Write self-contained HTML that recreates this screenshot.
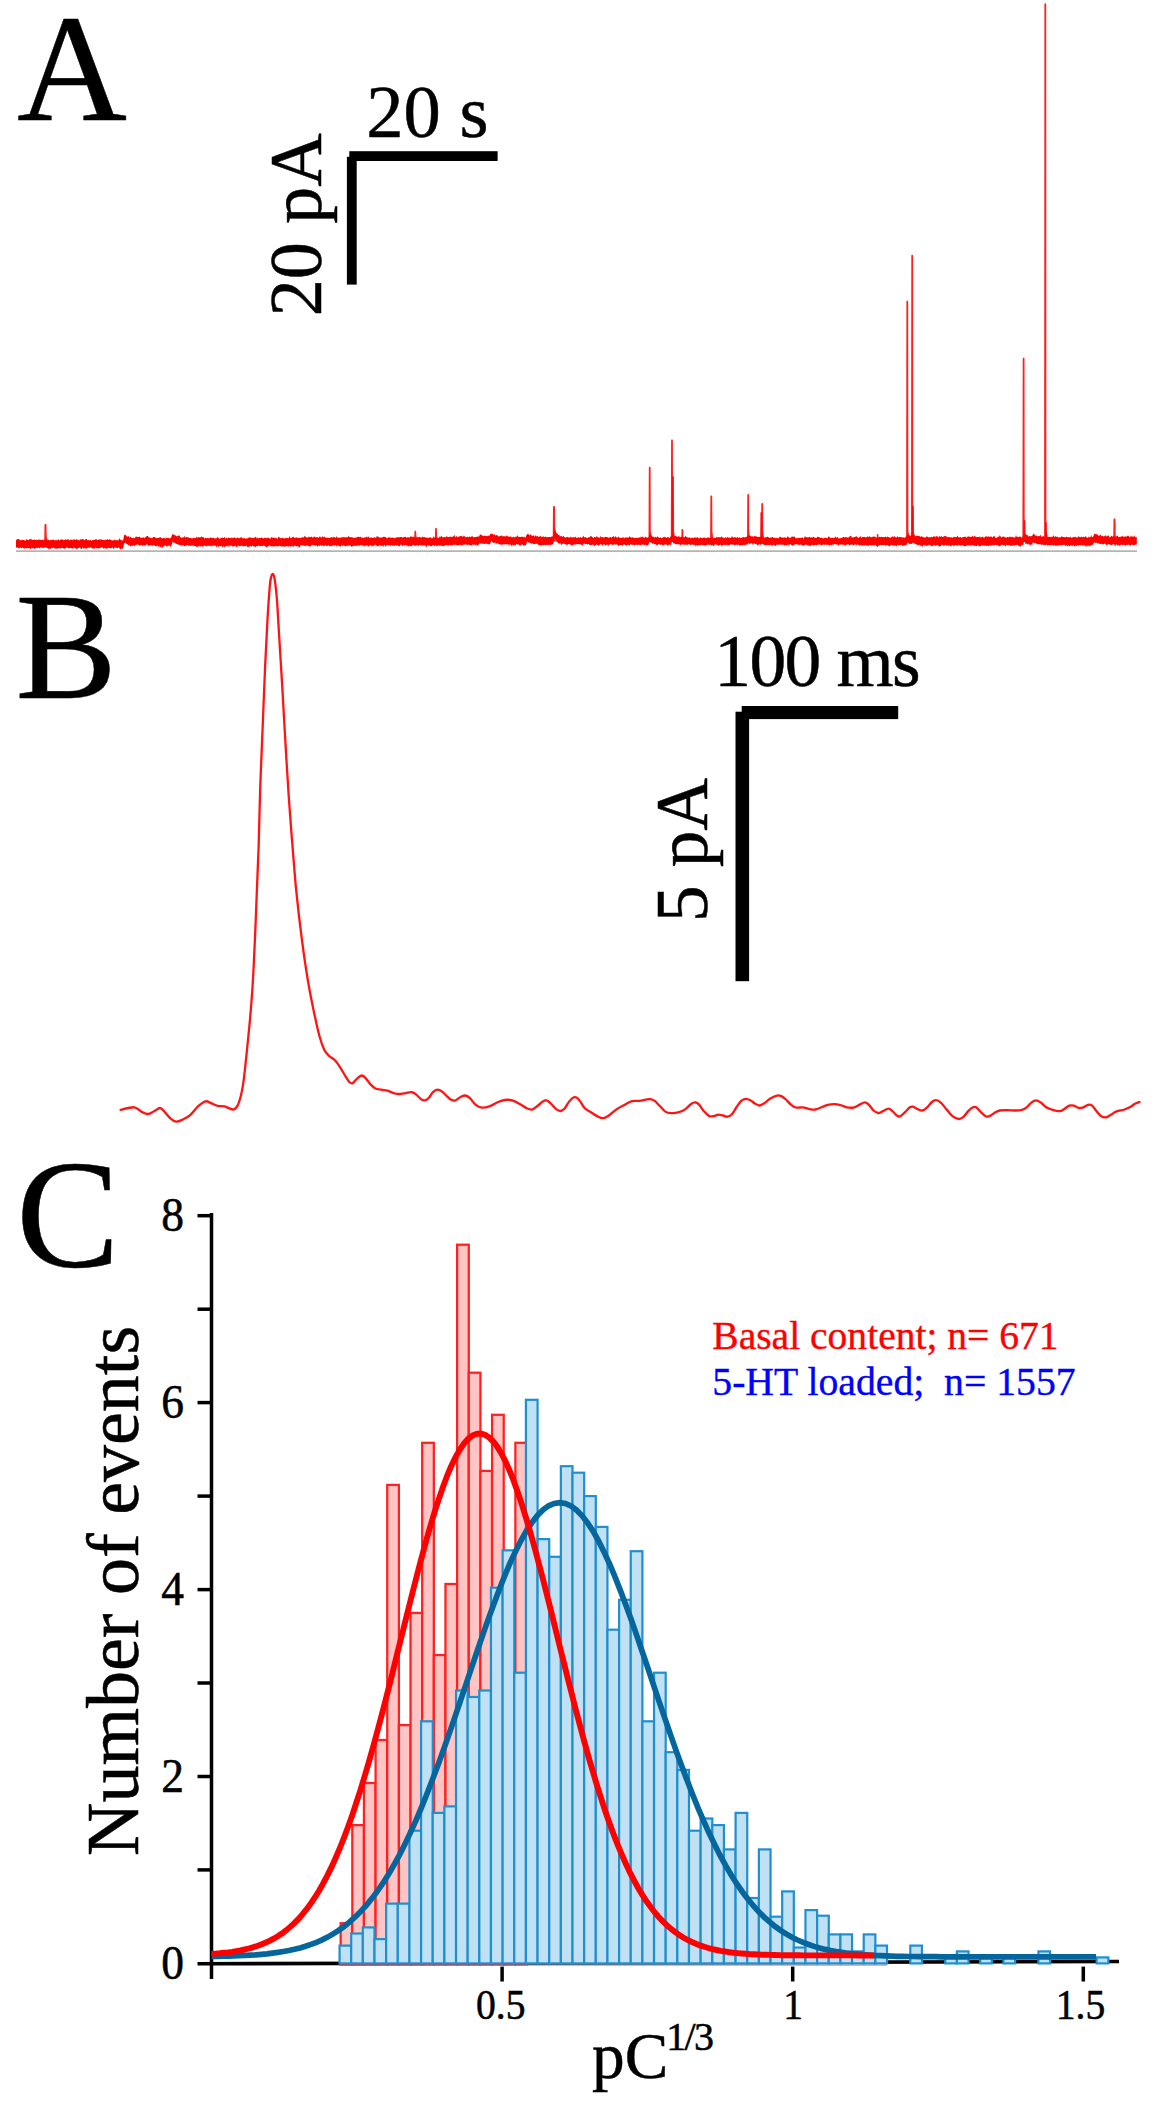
<!DOCTYPE html>
<html lang="en"><head><meta charset="utf-8"><title>Figure</title>
<style>
html,body{margin:0;padding:0;background:#fff;}
body{width:1154px;height:2108px;overflow:hidden;}
svg{display:block;}
</style></head><body>
<svg width="1154" height="2108" viewBox="0 0 1154 2108">
<rect width="1154" height="2108" fill="#fff"/>
<!-- Panel A: amperometric trace -->
<line x1="16" y1="551.1" x2="1137" y2="551.1" stroke="#b4b4b4" stroke-width="1.6"/>
<path d="M16.0 540.4 L16.8 539.3 L17.6 539.2 L18.4 538.8 L19.2 539.2 L20.0 540.6 L20.8 540.1 L21.6 540.2 L22.4 539.8 L23.2 540.0 L24.0 540.1 L24.8 540.5 L25.6 540.9 L26.4 539.0 L27.2 539.6 L28.0 540.2 L28.8 540.1 L29.6 538.9 L30.4 539.3 L31.2 539.1 L32.0 539.9 L32.8 540.0 L33.6 539.8 L34.4 539.6 L35.2 539.9 L36.0 540.0 L36.8 539.5 L37.6 540.2 L38.4 539.6 L39.2 539.7 L40.0 539.5 L40.8 539.9 L41.6 539.9 L42.4 539.4 L43.2 539.9 L44.0 540.6 L44.8 539.2 L45.6 540.5 L46.4 538.6 L47.2 540.3 L48.0 539.4 L48.8 539.8 L49.6 540.5 L50.4 539.9 L51.2 540.2 L52.0 539.6 L52.8 540.1 L53.6 539.5 L54.4 540.4 L55.2 540.2 L56.0 539.9 L56.8 540.2 L57.6 540.3 L58.4 539.1 L59.2 540.6 L60.0 540.1 L60.8 539.5 L61.6 539.4 L62.4 539.3 L63.2 540.2 L64.0 540.1 L64.8 540.0 L65.6 538.9 L66.4 540.3 L67.2 538.7 L68.0 540.2 L68.8 538.8 L69.6 540.8 L70.4 539.6 L71.2 539.8 L72.0 539.5 L72.8 540.4 L73.6 539.0 L74.4 539.4 L75.2 539.7 L76.0 539.9 L76.8 538.6 L77.6 540.2 L78.4 540.1 L79.2 540.5 L80.0 539.2 L80.8 539.4 L81.6 539.6 L82.4 538.9 L83.2 539.2 L84.0 539.5 L84.8 540.5 L85.6 538.9 L86.4 538.7 L87.2 539.8 L88.0 540.5 L88.8 539.7 L89.6 540.5 L90.4 539.8 L91.2 540.7 L92.0 540.6 L92.8 540.1 L93.6 539.9 L94.4 539.9 L95.2 539.4 L96.0 539.1 L96.8 539.5 L97.6 540.2 L98.4 539.8 L99.2 539.2 L100.0 539.7 L100.8 539.3 L101.6 539.5 L102.4 540.1 L103.2 539.9 L104.0 540.0 L104.8 540.3 L105.6 539.4 L106.4 540.0 L107.2 539.3 L108.0 539.2 L108.8 540.1 L109.6 539.3 L110.4 539.6 L111.2 540.1 L112.0 540.6 L112.8 540.2 L113.6 540.4 L114.4 539.5 L115.2 539.9 L116.0 540.5 L116.8 540.1 L117.6 540.2 L118.4 540.5 L119.2 538.1 L120.0 539.5 L120.8 539.7 L121.6 540.3 L122.4 540.5 L123.2 540.3 L124.0 535.4 L124.8 534.5 L125.6 534.9 L126.4 535.7 L127.2 536.8 L128.0 536.4 L128.8 536.0 L129.6 537.7 L130.4 536.8 L131.2 537.2 L132.0 538.3 L132.8 537.9 L133.6 537.8 L134.4 538.4 L135.2 537.5 L136.0 536.3 L136.8 537.1 L137.6 536.8 L138.4 537.3 L139.2 536.6 L140.0 537.1 L140.8 538.0 L141.6 537.5 L142.4 538.1 L143.2 537.2 L144.0 537.5 L144.8 538.3 L145.6 536.8 L146.4 536.4 L147.2 536.1 L148.0 536.0 L148.8 537.6 L149.6 537.6 L150.4 537.8 L151.2 537.8 L152.0 538.4 L152.8 537.3 L153.6 536.9 L154.4 537.1 L155.2 537.2 L156.0 538.2 L156.8 538.1 L157.6 538.1 L158.4 538.0 L159.2 537.7 L160.0 537.1 L160.8 537.6 L161.6 538.1 L162.4 538.6 L163.2 538.0 L164.0 538.0 L164.8 538.2 L165.6 538.6 L166.4 537.9 L167.2 537.5 L168.0 538.6 L168.8 537.5 L169.6 538.6 L170.4 538.3 L171.2 537.2 L172.0 535.1 L172.8 533.6 L173.6 535.1 L174.4 534.7 L175.2 535.5 L176.0 535.6 L176.8 536.4 L177.6 536.0 L178.4 535.7 L179.2 535.1 L180.0 536.8 L180.8 537.5 L181.6 537.8 L182.4 537.4 L183.2 537.5 L184.0 537.0 L184.8 536.0 L185.6 538.1 L186.4 537.0 L187.2 537.1 L188.0 537.6 L188.8 537.4 L189.6 538.0 L190.4 537.8 L191.2 538.5 L192.0 537.8 L192.8 538.5 L193.6 538.0 L194.4 537.9 L195.2 537.7 L196.0 537.9 L196.8 536.5 L197.6 537.9 L198.4 537.0 L199.2 537.5 L200.0 536.9 L200.8 537.5 L201.6 536.3 L202.4 537.5 L203.2 536.4 L204.0 538.2 L204.8 538.6 L205.6 537.5 L206.4 538.3 L207.2 538.3 L208.0 537.7 L208.8 538.4 L209.6 537.9 L210.4 537.4 L211.2 537.4 L212.0 538.3 L212.8 537.7 L213.6 537.8 L214.4 538.5 L215.2 538.2 L216.0 538.4 L216.8 538.0 L217.6 536.9 L218.4 537.6 L219.2 538.9 L220.0 538.3 L220.8 538.3 L221.6 537.7 L222.4 537.4 L223.2 537.9 L224.0 537.9 L224.8 536.6 L225.6 538.8 L226.4 537.6 L227.2 538.8 L228.0 537.1 L228.8 538.0 L229.6 537.9 L230.4 538.3 L231.2 537.3 L232.0 538.4 L232.8 537.5 L233.6 538.1 L234.4 537.4 L235.2 537.4 L236.0 538.4 L236.8 538.0 L237.6 537.6 L238.4 537.9 L239.2 538.2 L240.0 538.1 L240.8 537.2 L241.6 537.2 L242.4 538.2 L243.2 538.3 L244.0 538.2 L244.8 538.0 L245.6 538.9 L246.4 538.2 L247.2 538.7 L248.0 537.7 L248.8 537.8 L249.6 537.2 L250.4 537.4 L251.2 537.8 L252.0 538.0 L252.8 537.8 L253.6 538.3 L254.4 537.4 L255.2 537.3 L256.0 536.4 L256.8 538.7 L257.6 537.6 L258.4 538.5 L259.2 537.7 L260.0 538.1 L260.8 537.9 L261.6 537.6 L262.4 537.8 L263.2 538.6 L264.0 538.2 L264.8 537.6 L265.6 538.0 L266.4 538.2 L267.2 537.8 L268.0 537.5 L268.8 537.9 L269.6 538.6 L270.4 538.7 L271.2 537.0 L272.0 537.4 L272.8 537.7 L273.6 537.5 L274.4 538.0 L275.2 537.7 L276.0 537.7 L276.8 538.5 L277.6 538.7 L278.4 536.4 L279.2 537.3 L280.0 537.7 L280.8 538.2 L281.6 538.3 L282.4 537.7 L283.2 537.9 L284.0 538.2 L284.8 538.7 L285.6 537.8 L286.4 538.1 L287.2 538.0 L288.0 538.1 L288.8 538.3 L289.6 535.8 L290.4 538.2 L291.2 537.7 L292.0 537.7 L292.8 536.5 L293.6 537.1 L294.4 538.1 L295.2 537.6 L296.0 537.8 L296.8 537.3 L297.6 537.7 L298.4 538.0 L299.2 538.0 L300.0 537.8 L300.8 537.9 L301.6 537.5 L302.4 537.0 L303.2 537.7 L304.0 537.1 L304.8 536.1 L305.6 536.5 L306.4 537.4 L307.2 537.3 L308.0 537.7 L308.8 536.5 L309.6 537.1 L310.4 537.3 L311.2 536.6 L312.0 537.1 L312.8 537.7 L313.6 537.1 L314.4 536.4 L315.2 537.1 L316.0 537.8 L316.8 537.1 L317.6 536.9 L318.4 538.0 L319.2 537.0 L320.0 536.3 L320.8 537.4 L321.6 537.6 L322.4 536.0 L323.2 537.5 L324.0 536.6 L324.8 536.8 L325.6 537.9 L326.4 537.6 L327.2 537.4 L328.0 537.9 L328.8 537.7 L329.6 537.9 L330.4 537.4 L331.2 537.5 L332.0 536.4 L332.8 537.9 L333.6 536.7 L334.4 536.9 L335.2 537.8 L336.0 537.4 L336.8 536.1 L337.6 538.1 L338.4 537.5 L339.2 537.9 L340.0 537.1 L340.8 538.2 L341.6 537.1 L342.4 537.2 L343.2 537.6 L344.0 536.5 L344.8 537.4 L345.6 537.4 L346.4 536.9 L347.2 537.4 L348.0 536.6 L348.8 536.3 L349.6 536.9 L350.4 537.3 L351.2 536.9 L352.0 537.5 L352.8 537.3 L353.6 537.9 L354.4 538.0 L355.2 537.0 L356.0 538.3 L356.8 537.0 L357.6 536.9 L358.4 536.6 L359.2 537.3 L360.0 536.8 L360.8 536.8 L361.6 538.0 L362.4 537.4 L363.2 537.4 L364.0 538.3 L364.8 536.9 L365.6 537.4 L366.4 536.4 L367.2 537.8 L368.0 536.3 L368.8 536.9 L369.6 538.0 L370.4 537.7 L371.2 536.9 L372.0 537.9 L372.8 537.8 L373.6 537.8 L374.4 537.2 L375.2 537.2 L376.0 538.2 L376.8 535.9 L377.6 536.5 L378.4 536.8 L379.2 537.6 L380.0 537.4 L380.8 537.4 L381.6 537.6 L382.4 537.3 L383.2 536.9 L384.0 536.6 L384.8 537.1 L385.6 536.9 L386.4 537.8 L387.2 538.4 L388.0 537.4 L388.8 537.2 L389.6 537.6 L390.4 537.6 L391.2 537.8 L392.0 538.0 L392.8 537.3 L393.6 538.1 L394.4 538.1 L395.2 538.3 L396.0 537.2 L396.8 537.5 L397.6 537.0 L398.4 537.4 L399.2 537.3 L400.0 536.9 L400.8 537.0 L401.6 537.1 L402.4 537.5 L403.2 537.3 L404.0 537.3 L404.8 536.7 L405.6 536.8 L406.4 537.7 L407.2 537.6 L408.0 537.0 L408.8 537.4 L409.6 537.6 L410.4 536.2 L411.2 536.9 L412.0 535.9 L412.8 537.5 L413.6 536.6 L414.4 537.1 L415.2 537.8 L416.0 537.8 L416.8 536.3 L417.6 537.6 L418.4 537.2 L419.2 536.8 L420.0 537.2 L420.8 537.6 L421.6 537.5 L422.4 536.6 L423.2 537.1 L424.0 537.5 L424.8 536.7 L425.6 537.7 L426.4 537.3 L427.2 538.2 L428.0 537.2 L428.8 538.0 L429.6 537.4 L430.4 537.1 L431.2 538.2 L432.0 538.1 L432.8 538.2 L433.6 536.0 L434.4 537.8 L435.2 537.4 L436.0 537.1 L436.8 537.6 L437.6 537.4 L438.4 538.1 L439.2 537.6 L440.0 535.9 L440.8 537.5 L441.6 535.2 L442.4 537.5 L443.2 537.0 L444.0 537.3 L444.8 537.0 L445.6 537.4 L446.4 536.2 L447.2 536.5 L448.0 537.3 L448.8 537.0 L449.6 536.7 L450.4 536.5 L451.2 537.2 L452.0 536.5 L452.8 537.0 L453.6 536.1 L454.4 534.8 L455.2 537.3 L456.0 537.0 L456.8 535.8 L457.6 537.5 L458.4 536.7 L459.2 536.7 L460.0 535.9 L460.8 536.1 L461.6 535.8 L462.4 537.2 L463.2 535.2 L464.0 537.1 L464.8 535.7 L465.6 537.5 L466.4 537.1 L467.2 536.8 L468.0 536.7 L468.8 537.5 L469.6 536.3 L470.4 537.1 L471.2 537.1 L472.0 535.6 L472.8 536.8 L473.6 537.6 L474.4 537.1 L475.2 537.1 L476.0 537.1 L476.8 536.7 L477.6 536.5 L478.4 536.5 L479.2 536.5 L480.0 534.3 L480.8 534.8 L481.6 534.9 L482.4 535.4 L483.2 536.2 L484.0 535.4 L484.8 535.7 L485.6 535.9 L486.4 536.0 L487.2 536.2 L488.0 535.4 L488.8 535.8 L489.6 535.7 L490.4 533.7 L491.2 533.7 L492.0 533.8 L492.8 534.2 L493.6 535.0 L494.4 534.0 L495.2 535.5 L496.0 535.2 L496.8 535.0 L497.6 535.4 L498.4 536.4 L499.2 536.5 L500.0 535.8 L500.8 535.9 L501.6 535.2 L502.4 536.5 L503.2 536.3 L504.0 536.1 L504.8 536.5 L505.6 536.4 L506.4 535.4 L507.2 535.8 L508.0 536.8 L508.8 536.4 L509.6 536.7 L510.4 536.2 L511.2 537.2 L512.0 536.9 L512.8 537.4 L513.6 536.5 L514.4 537.4 L515.2 537.2 L516.0 536.1 L516.8 537.3 L517.6 534.9 L518.4 537.1 L519.2 536.8 L520.0 537.1 L520.8 537.1 L521.6 536.8 L522.4 536.4 L523.2 537.5 L524.0 536.4 L524.8 537.5 L525.6 537.5 L526.4 535.3 L527.2 534.2 L528.0 533.7 L528.8 534.4 L529.6 535.5 L530.4 534.2 L531.2 535.3 L532.0 535.6 L532.8 535.9 L533.6 534.9 L534.4 537.0 L535.2 535.3 L536.0 536.0 L536.8 536.5 L537.6 535.5 L538.4 537.1 L539.2 536.7 L540.0 536.2 L540.8 536.1 L541.6 537.2 L542.4 536.9 L543.2 536.0 L544.0 537.3 L544.8 536.7 L545.6 536.6 L546.4 537.3 L547.2 537.2 L548.0 537.1 L548.8 536.9 L549.6 537.0 L550.4 537.3 L551.2 536.4 L552.0 536.8 L552.8 536.2 L553.6 534.6 L554.4 527.1 L555.2 529.7 L556.0 532.1 L556.8 533.4 L557.6 533.7 L558.4 535.2 L559.2 534.5 L560.0 536.7 L560.8 535.7 L561.6 536.1 L562.4 537.2 L563.2 535.8 L564.0 536.6 L564.8 537.6 L565.6 537.4 L566.4 537.3 L567.2 536.8 L568.0 537.3 L568.8 537.4 L569.6 537.5 L570.4 536.6 L571.2 537.7 L572.0 537.0 L572.8 537.8 L573.6 537.1 L574.4 537.5 L575.2 536.6 L576.0 537.4 L576.8 538.1 L577.6 537.6 L578.4 537.3 L579.2 538.1 L580.0 536.8 L580.8 537.5 L581.6 537.7 L582.4 537.4 L583.2 535.5 L584.0 536.9 L584.8 537.5 L585.6 536.9 L586.4 537.8 L587.2 537.7 L588.0 538.0 L588.8 537.0 L589.6 537.3 L590.4 536.3 L591.2 536.0 L592.0 536.7 L592.8 537.5 L593.6 538.0 L594.4 536.7 L595.2 537.3 L596.0 537.6 L596.8 535.8 L597.6 537.2 L598.4 537.2 L599.2 537.8 L600.0 537.4 L600.8 535.7 L601.6 537.6 L602.4 537.0 L603.2 537.3 L604.0 537.7 L604.8 537.0 L605.6 536.7 L606.4 536.9 L607.2 537.0 L608.0 537.6 L608.8 537.7 L609.6 537.5 L610.4 536.8 L611.2 537.9 L612.0 537.0 L612.8 536.8 L613.6 535.8 L614.4 537.9 L615.2 536.1 L616.0 537.1 L616.8 537.4 L617.6 537.7 L618.4 536.4 L619.2 537.3 L620.0 537.9 L620.8 537.9 L621.6 537.9 L622.4 537.7 L623.2 536.8 L624.0 538.4 L624.8 537.4 L625.6 537.4 L626.4 537.7 L627.2 537.3 L628.0 537.4 L628.8 537.7 L629.6 536.1 L630.4 536.9 L631.2 537.8 L632.0 537.5 L632.8 537.3 L633.6 537.8 L634.4 538.1 L635.2 538.1 L636.0 537.9 L636.8 537.8 L637.6 537.7 L638.4 538.1 L639.2 537.1 L640.0 538.1 L640.8 536.5 L641.6 537.6 L642.4 536.4 L643.2 536.8 L644.0 538.1 L644.8 537.6 L645.6 536.4 L646.4 537.6 L647.2 537.4 L648.0 537.7 L648.8 536.9 L649.6 532.7 L650.4 535.8 L651.2 535.0 L652.0 536.1 L652.8 537.0 L653.6 536.5 L654.4 537.7 L655.2 537.0 L656.0 536.8 L656.8 537.8 L657.6 536.0 L658.4 537.3 L659.2 537.9 L660.0 537.4 L660.8 537.3 L661.6 538.2 L662.4 538.0 L663.2 536.8 L664.0 537.4 L664.8 536.4 L665.6 537.5 L666.4 537.8 L667.2 537.3 L668.0 537.0 L668.8 537.6 L669.6 538.3 L670.4 536.1 L671.2 537.2 L672.0 534.8 L672.8 534.4 L673.6 536.2 L674.4 536.4 L675.2 535.8 L676.0 536.3 L676.8 536.4 L677.6 537.1 L678.4 536.3 L679.2 536.3 L680.0 537.4 L680.8 536.7 L681.6 536.8 L682.4 537.6 L683.2 536.9 L684.0 536.9 L684.8 537.6 L685.6 535.8 L686.4 536.7 L687.2 537.5 L688.0 537.3 L688.8 537.9 L689.6 537.1 L690.4 538.5 L691.2 537.5 L692.0 538.2 L692.8 537.2 L693.6 538.2 L694.4 537.5 L695.2 537.5 L696.0 537.4 L696.8 537.8 L697.6 536.9 L698.4 538.3 L699.2 538.4 L700.0 537.3 L700.8 537.7 L701.6 538.1 L702.4 538.2 L703.2 537.8 L704.0 537.5 L704.8 537.5 L705.6 538.2 L706.4 538.0 L707.2 537.9 L708.0 536.7 L708.8 537.9 L709.6 537.7 L710.4 537.2 L711.2 538.0 L712.0 536.8 L712.8 538.3 L713.6 537.9 L714.4 537.8 L715.2 537.9 L716.0 537.8 L716.8 536.4 L717.6 537.6 L718.4 537.2 L719.2 537.0 L720.0 537.5 L720.8 537.3 L721.6 536.2 L722.4 537.6 L723.2 537.3 L724.0 538.4 L724.8 537.5 L725.6 537.2 L726.4 538.1 L727.2 537.2 L728.0 536.8 L728.8 538.1 L729.6 537.5 L730.4 538.0 L731.2 537.8 L732.0 535.8 L732.8 537.4 L733.6 537.5 L734.4 537.2 L735.2 536.8 L736.0 538.2 L736.8 537.2 L737.6 537.0 L738.4 537.9 L739.2 537.5 L740.0 537.6 L740.8 538.0 L741.6 537.7 L742.4 537.5 L743.2 536.7 L744.0 537.5 L744.8 537.3 L745.6 537.2 L746.4 536.7 L747.2 536.5 L748.0 534.9 L748.8 535.8 L749.6 535.9 L750.4 535.5 L751.2 536.5 L752.0 536.3 L752.8 536.2 L753.6 537.3 L754.4 535.7 L755.2 536.6 L756.0 535.6 L756.8 536.9 L757.6 537.1 L758.4 536.9 L759.2 536.7 L760.0 537.0 L760.8 536.5 L761.6 536.9 L762.4 537.6 L763.2 537.0 L764.0 537.6 L764.8 537.6 L765.6 537.3 L766.4 537.3 L767.2 536.5 L768.0 537.0 L768.8 537.6 L769.6 538.0 L770.4 537.4 L771.2 537.4 L772.0 537.2 L772.8 536.8 L773.6 537.9 L774.4 537.4 L775.2 538.1 L776.0 538.3 L776.8 537.7 L777.6 538.3 L778.4 538.2 L779.2 537.6 L780.0 536.6 L780.8 537.0 L781.6 537.7 L782.4 537.2 L783.2 538.0 L784.0 537.2 L784.8 537.4 L785.6 537.6 L786.4 538.3 L787.2 536.7 L788.0 536.2 L788.8 537.7 L789.6 537.5 L790.4 538.3 L791.2 536.5 L792.0 537.2 L792.8 536.2 L793.6 536.7 L794.4 536.5 L795.2 537.4 L796.0 538.4 L796.8 537.9 L797.6 538.2 L798.4 538.1 L799.2 537.8 L800.0 538.2 L800.8 537.7 L801.6 537.7 L802.4 537.3 L803.2 538.4 L804.0 538.2 L804.8 536.3 L805.6 536.7 L806.4 537.3 L807.2 537.4 L808.0 537.0 L808.8 537.6 L809.6 536.6 L810.4 538.1 L811.2 536.7 L812.0 537.9 L812.8 537.0 L813.6 536.8 L814.4 537.4 L815.2 537.7 L816.0 537.9 L816.8 537.8 L817.6 536.6 L818.4 537.1 L819.2 536.9 L820.0 537.8 L820.8 537.9 L821.6 537.6 L822.4 538.0 L823.2 538.5 L824.0 538.3 L824.8 537.4 L825.6 538.0 L826.4 537.7 L827.2 538.4 L828.0 537.2 L828.8 536.2 L829.6 536.9 L830.4 538.1 L831.2 537.9 L832.0 537.7 L832.8 537.7 L833.6 538.1 L834.4 538.0 L835.2 536.5 L836.0 537.3 L836.8 537.7 L837.6 536.7 L838.4 538.4 L839.2 538.3 L840.0 538.4 L840.8 538.0 L841.6 538.0 L842.4 537.6 L843.2 536.9 L844.0 537.1 L844.8 537.8 L845.6 536.8 L846.4 537.2 L847.2 537.4 L848.0 537.5 L848.8 537.4 L849.6 536.3 L850.4 535.9 L851.2 536.1 L852.0 538.0 L852.8 536.9 L853.6 537.6 L854.4 537.0 L855.2 536.8 L856.0 536.6 L856.8 536.3 L857.6 537.4 L858.4 538.1 L859.2 536.8 L860.0 537.4 L860.8 535.5 L861.6 537.9 L862.4 537.1 L863.2 536.7 L864.0 537.3 L864.8 536.7 L865.6 537.3 L866.4 537.6 L867.2 536.5 L868.0 536.4 L868.8 537.2 L869.6 536.0 L870.4 537.0 L871.2 537.4 L872.0 536.5 L872.8 537.0 L873.6 536.5 L874.4 536.5 L875.2 537.1 L876.0 537.3 L876.8 537.6 L877.6 536.7 L878.4 537.7 L879.2 536.7 L880.0 536.8 L880.8 537.2 L881.6 536.8 L882.4 537.1 L883.2 537.0 L884.0 537.2 L884.8 536.9 L885.6 536.5 L886.4 537.5 L887.2 536.2 L888.0 537.5 L888.8 536.8 L889.6 537.4 L890.4 537.7 L891.2 537.3 L892.0 537.0 L892.8 535.9 L893.6 537.6 L894.4 536.0 L895.2 536.9 L896.0 537.6 L896.8 537.2 L897.6 536.1 L898.4 537.6 L899.2 536.7 L900.0 537.1 L900.8 537.1 L901.6 537.2 L902.4 537.4 L903.2 537.4 L904.0 537.3 L904.8 538.0 L905.6 537.1 L906.4 536.4 L907.2 534.6 L908.0 535.0 L908.8 535.2 L909.6 535.5 L910.4 535.4 L911.2 535.8 L912.0 533.5 L912.8 534.2 L913.6 534.9 L914.4 534.4 L915.2 536.5 L916.0 535.5 L916.8 536.2 L917.6 535.6 L918.4 536.0 L919.2 535.9 L920.0 536.5 L920.8 536.9 L921.6 536.0 L922.4 536.7 L923.2 537.3 L924.0 537.2 L924.8 537.5 L925.6 537.6 L926.4 536.5 L927.2 536.5 L928.0 536.9 L928.8 537.4 L929.6 537.0 L930.4 537.5 L931.2 536.7 L932.0 537.3 L932.8 537.0 L933.6 536.3 L934.4 536.3 L935.2 537.5 L936.0 535.9 L936.8 536.3 L937.6 536.4 L938.4 537.7 L939.2 535.7 L940.0 536.8 L940.8 536.7 L941.6 536.0 L942.4 536.9 L943.2 537.0 L944.0 536.1 L944.8 536.3 L945.6 535.8 L946.4 536.5 L947.2 537.5 L948.0 536.8 L948.8 537.1 L949.6 537.2 L950.4 537.5 L951.2 537.1 L952.0 537.8 L952.8 537.6 L953.6 537.2 L954.4 536.6 L955.2 537.3 L956.0 536.9 L956.8 536.9 L957.6 535.6 L958.4 537.2 L959.2 537.6 L960.0 536.9 L960.8 537.0 L961.6 537.9 L962.4 537.3 L963.2 537.0 L964.0 537.1 L964.8 536.8 L965.6 536.6 L966.4 537.8 L967.2 536.9 L968.0 536.3 L968.8 536.5 L969.6 537.0 L970.4 536.9 L971.2 536.8 L972.0 536.5 L972.8 535.9 L973.6 537.2 L974.4 536.0 L975.2 536.0 L976.0 537.5 L976.8 536.8 L977.6 537.0 L978.4 536.9 L979.2 537.3 L980.0 536.1 L980.8 538.1 L981.6 537.1 L982.4 536.4 L983.2 537.5 L984.0 537.2 L984.8 537.6 L985.6 536.3 L986.4 536.2 L987.2 536.9 L988.0 536.6 L988.8 536.3 L989.6 536.9 L990.4 536.7 L991.2 536.2 L992.0 537.2 L992.8 537.4 L993.6 536.0 L994.4 536.1 L995.2 537.6 L996.0 537.9 L996.8 537.7 L997.6 537.0 L998.4 537.1 L999.2 534.9 L1000.0 537.1 L1000.8 536.0 L1001.6 537.8 L1002.4 536.8 L1003.2 536.8 L1004.0 536.3 L1004.8 537.4 L1005.6 537.2 L1006.4 537.7 L1007.2 537.1 L1008.0 537.1 L1008.8 537.5 L1009.6 536.4 L1010.4 536.7 L1011.2 537.4 L1012.0 536.6 L1012.8 537.0 L1013.6 537.4 L1014.4 537.6 L1015.2 537.6 L1016.0 535.0 L1016.8 536.9 L1017.6 536.7 L1018.4 537.3 L1019.2 536.5 L1020.0 536.7 L1020.8 536.7 L1021.6 537.5 L1022.4 537.5 L1023.2 535.3 L1024.0 534.4 L1024.8 534.6 L1025.6 534.2 L1026.4 535.0 L1027.2 534.4 L1028.0 536.1 L1028.8 536.8 L1029.6 535.4 L1030.4 536.5 L1031.2 536.0 L1032.0 536.3 L1032.8 534.7 L1033.6 533.4 L1034.4 534.4 L1035.2 535.3 L1036.0 536.3 L1036.8 535.3 L1037.6 536.5 L1038.4 536.1 L1039.2 536.2 L1040.0 535.8 L1040.8 534.8 L1041.6 537.2 L1042.4 536.3 L1043.2 536.2 L1044.0 536.2 L1044.8 537.3 L1045.6 537.1 L1046.4 537.1 L1047.2 537.5 L1048.0 537.3 L1048.8 536.4 L1049.6 537.1 L1050.4 536.7 L1051.2 537.4 L1052.0 536.1 L1052.8 537.3 L1053.6 535.1 L1054.4 537.3 L1055.2 536.3 L1056.0 536.5 L1056.8 537.1 L1057.6 536.5 L1058.4 537.4 L1059.2 537.2 L1060.0 537.3 L1060.8 537.3 L1061.6 536.3 L1062.4 536.7 L1063.2 536.9 L1064.0 536.9 L1064.8 537.2 L1065.6 537.2 L1066.4 536.6 L1067.2 537.2 L1068.0 537.3 L1068.8 537.0 L1069.6 537.6 L1070.4 536.5 L1071.2 537.9 L1072.0 536.9 L1072.8 537.7 L1073.6 536.6 L1074.4 537.5 L1075.2 536.6 L1076.0 537.2 L1076.8 537.5 L1077.6 537.4 L1078.4 536.3 L1079.2 536.6 L1080.0 537.4 L1080.8 537.1 L1081.6 536.5 L1082.4 537.5 L1083.2 536.5 L1084.0 537.2 L1084.8 537.0 L1085.6 536.1 L1086.4 537.2 L1087.2 537.7 L1088.0 537.4 L1088.8 536.6 L1089.6 537.4 L1090.4 537.2 L1091.2 534.8 L1092.0 537.2 L1092.8 537.0 L1093.6 535.8 L1094.4 533.3 L1095.2 534.2 L1096.0 534.1 L1096.8 534.2 L1097.6 534.7 L1098.4 535.8 L1099.2 535.7 L1100.0 535.0 L1100.8 534.6 L1101.6 536.3 L1102.4 536.0 L1103.2 536.2 L1104.0 536.5 L1104.8 536.1 L1105.6 535.3 L1106.4 536.5 L1107.2 536.3 L1108.0 535.5 L1108.8 535.6 L1109.6 537.3 L1110.4 537.3 L1111.2 536.1 L1112.0 535.8 L1112.8 537.1 L1113.6 535.9 L1114.4 536.5 L1115.2 537.2 L1116.0 536.5 L1116.8 536.0 L1117.6 535.6 L1118.4 537.1 L1119.2 536.7 L1120.0 537.2 L1120.8 536.6 L1121.6 536.4 L1122.4 536.1 L1123.2 536.7 L1124.0 536.8 L1124.8 536.4 L1125.6 536.6 L1126.4 536.8 L1127.2 536.1 L1128.0 535.5 L1128.8 536.3 L1129.6 537.4 L1130.4 536.5 L1131.2 536.3 L1132.0 536.5 L1132.8 536.5 L1133.6 536.9 L1134.4 535.2 L1135.2 537.4 L1136.0 536.9 L1136.8 537.2 L1136.8 545.1 L1136.0 544.3 L1135.2 544.7 L1134.4 544.9 L1133.6 545.2 L1132.8 544.8 L1132.0 544.8 L1131.2 544.5 L1130.4 545.9 L1129.6 545.3 L1128.8 544.4 L1128.0 544.7 L1127.2 545.1 L1126.4 544.7 L1125.6 545.9 L1124.8 545.1 L1124.0 544.7 L1123.2 545.0 L1122.4 545.0 L1121.6 544.6 L1120.8 544.8 L1120.0 545.4 L1119.2 545.7 L1118.4 544.7 L1117.6 545.5 L1116.8 544.7 L1116.0 544.2 L1115.2 546.5 L1114.4 544.4 L1113.6 544.0 L1112.8 544.5 L1112.0 544.8 L1111.2 545.5 L1110.4 544.5 L1109.6 544.8 L1108.8 544.0 L1108.0 544.6 L1107.2 544.6 L1106.4 545.2 L1105.6 543.9 L1104.8 543.6 L1104.0 543.9 L1103.2 544.5 L1102.4 544.2 L1101.6 543.8 L1100.8 544.1 L1100.0 543.9 L1099.2 543.6 L1098.4 543.5 L1097.6 543.2 L1096.8 542.9 L1096.0 542.5 L1095.2 543.4 L1094.4 542.0 L1093.6 543.4 L1092.8 545.2 L1092.0 544.4 L1091.2 545.7 L1090.4 545.4 L1089.6 546.2 L1088.8 545.2 L1088.0 546.7 L1087.2 545.3 L1086.4 546.5 L1085.6 546.6 L1084.8 545.1 L1084.0 545.8 L1083.2 544.9 L1082.4 546.0 L1081.6 544.7 L1080.8 545.5 L1080.0 545.1 L1079.2 545.0 L1078.4 545.9 L1077.6 544.9 L1076.8 545.8 L1076.0 545.7 L1075.2 545.6 L1074.4 546.8 L1073.6 544.8 L1072.8 545.4 L1072.0 546.4 L1071.2 545.0 L1070.4 545.3 L1069.6 546.4 L1068.8 545.6 L1068.0 545.5 L1067.2 546.5 L1066.4 544.8 L1065.6 546.2 L1064.8 545.1 L1064.0 544.5 L1063.2 545.1 L1062.4 544.9 L1061.6 545.1 L1060.8 545.7 L1060.0 545.1 L1059.2 545.2 L1058.4 545.3 L1057.6 546.0 L1056.8 545.0 L1056.0 546.2 L1055.2 545.6 L1054.4 544.7 L1053.6 546.0 L1052.8 545.0 L1052.0 545.0 L1051.2 545.3 L1050.4 545.0 L1049.6 545.5 L1048.8 545.1 L1048.0 544.9 L1047.2 545.5 L1046.4 544.5 L1045.6 544.9 L1044.8 545.5 L1044.0 544.4 L1043.2 545.5 L1042.4 544.2 L1041.6 545.2 L1040.8 544.0 L1040.0 544.5 L1039.2 544.1 L1038.4 544.2 L1037.6 544.5 L1036.8 543.8 L1036.0 543.5 L1035.2 542.7 L1034.4 543.1 L1033.6 542.9 L1032.8 542.3 L1032.0 545.2 L1031.2 543.9 L1030.4 545.4 L1029.6 544.4 L1028.8 544.5 L1028.0 543.5 L1027.2 544.8 L1026.4 543.5 L1025.6 544.0 L1024.8 542.1 L1024.0 542.0 L1023.2 544.7 L1022.4 545.0 L1021.6 544.6 L1020.8 547.3 L1020.0 545.8 L1019.2 546.3 L1018.4 545.7 L1017.6 544.7 L1016.8 544.8 L1016.0 545.5 L1015.2 544.9 L1014.4 545.8 L1013.6 545.2 L1012.8 545.7 L1012.0 545.6 L1011.2 545.7 L1010.4 545.9 L1009.6 545.1 L1008.8 545.2 L1008.0 544.9 L1007.2 545.3 L1006.4 544.8 L1005.6 546.5 L1004.8 544.9 L1004.0 545.3 L1003.2 545.7 L1002.4 544.5 L1001.6 544.8 L1000.8 545.6 L1000.0 546.4 L999.2 545.9 L998.4 545.8 L997.6 545.1 L996.8 545.6 L996.0 545.1 L995.2 544.5 L994.4 545.5 L993.6 545.6 L992.8 544.4 L992.0 546.3 L991.2 545.1 L990.4 545.9 L989.6 545.0 L988.8 546.3 L988.0 545.6 L987.2 546.0 L986.4 545.9 L985.6 545.0 L984.8 545.9 L984.0 545.3 L983.2 545.3 L982.4 545.9 L981.6 544.9 L980.8 545.9 L980.0 546.4 L979.2 546.3 L978.4 545.6 L977.6 544.4 L976.8 546.2 L976.0 546.0 L975.2 545.5 L974.4 546.3 L973.6 545.2 L972.8 545.1 L972.0 545.5 L971.2 545.3 L970.4 545.8 L969.6 545.3 L968.8 545.1 L968.0 546.1 L967.2 544.9 L966.4 545.5 L965.6 546.3 L964.8 546.1 L964.0 546.6 L963.2 545.2 L962.4 545.6 L961.6 545.1 L960.8 545.9 L960.0 545.1 L959.2 545.5 L958.4 544.5 L957.6 546.0 L956.8 545.7 L956.0 545.0 L955.2 545.3 L954.4 545.7 L953.6 546.0 L952.8 545.1 L952.0 544.9 L951.2 546.4 L950.4 546.1 L949.6 545.3 L948.8 545.9 L948.0 544.7 L947.2 545.5 L946.4 546.0 L945.6 544.6 L944.8 545.3 L944.0 545.7 L943.2 545.7 L942.4 544.5 L941.6 545.3 L940.8 546.0 L940.0 546.4 L939.2 546.4 L938.4 545.8 L937.6 544.9 L936.8 544.9 L936.0 546.2 L935.2 545.6 L934.4 545.3 L933.6 545.6 L932.8 545.9 L932.0 545.6 L931.2 546.8 L930.4 545.2 L929.6 544.9 L928.8 544.6 L928.0 546.2 L927.2 545.3 L926.4 546.1 L925.6 545.2 L924.8 545.7 L924.0 544.8 L923.2 545.0 L922.4 547.1 L921.6 545.8 L920.8 546.3 L920.0 544.5 L919.2 545.3 L918.4 545.0 L917.6 545.0 L916.8 544.5 L916.0 544.3 L915.2 543.8 L914.4 543.5 L913.6 543.3 L912.8 542.6 L912.0 543.7 L911.2 543.9 L910.4 543.7 L909.6 544.0 L908.8 543.2 L908.0 542.4 L907.2 543.8 L906.4 545.1 L905.6 545.3 L904.8 545.4 L904.0 545.2 L903.2 545.9 L902.4 545.9 L901.6 544.6 L900.8 545.1 L900.0 544.9 L899.2 544.9 L898.4 545.2 L897.6 544.7 L896.8 545.7 L896.0 546.8 L895.2 545.1 L894.4 545.8 L893.6 545.7 L892.8 545.3 L892.0 545.2 L891.2 544.8 L890.4 545.2 L889.6 546.3 L888.8 546.3 L888.0 545.3 L887.2 544.9 L886.4 545.2 L885.6 546.0 L884.8 544.5 L884.0 545.3 L883.2 544.9 L882.4 545.2 L881.6 545.0 L880.8 545.0 L880.0 544.7 L879.2 545.8 L878.4 545.5 L877.6 547.1 L876.8 546.5 L876.0 545.7 L875.2 544.5 L874.4 545.4 L873.6 545.4 L872.8 545.1 L872.0 545.7 L871.2 545.0 L870.4 545.4 L869.6 545.1 L868.8 545.6 L868.0 546.1 L867.2 545.4 L866.4 545.7 L865.6 544.8 L864.8 545.3 L864.0 546.1 L863.2 545.3 L862.4 545.6 L861.6 545.8 L860.8 544.9 L860.0 544.9 L859.2 545.6 L858.4 544.7 L857.6 544.0 L856.8 545.4 L856.0 544.5 L855.2 544.3 L854.4 544.7 L853.6 545.2 L852.8 544.8 L852.0 544.4 L851.2 544.9 L850.4 544.4 L849.6 545.4 L848.8 544.7 L848.0 544.0 L847.2 544.7 L846.4 544.6 L845.6 545.3 L844.8 545.3 L844.0 545.1 L843.2 543.9 L842.4 545.1 L841.6 544.4 L840.8 544.6 L840.0 544.5 L839.2 544.6 L838.4 545.8 L837.6 544.4 L836.8 544.5 L836.0 544.3 L835.2 544.2 L834.4 544.1 L833.6 544.8 L832.8 544.8 L832.0 544.6 L831.2 545.6 L830.4 544.7 L829.6 545.6 L828.8 544.9 L828.0 544.7 L827.2 544.5 L826.4 544.9 L825.6 544.0 L824.8 545.2 L824.0 544.2 L823.2 544.5 L822.4 545.0 L821.6 545.3 L820.8 545.1 L820.0 544.0 L819.2 544.6 L818.4 544.7 L817.6 544.3 L816.8 545.4 L816.0 545.3 L815.2 544.8 L814.4 545.0 L813.6 545.8 L812.8 545.0 L812.0 544.7 L811.2 545.4 L810.4 546.0 L809.6 545.8 L808.8 544.9 L808.0 546.3 L807.2 544.7 L806.4 544.8 L805.6 544.6 L804.8 545.4 L804.0 544.8 L803.2 546.1 L802.4 545.3 L801.6 545.3 L800.8 544.0 L800.0 545.2 L799.2 544.4 L798.4 544.9 L797.6 544.5 L796.8 544.1 L796.0 544.8 L795.2 544.0 L794.4 544.7 L793.6 544.9 L792.8 545.8 L792.0 545.4 L791.2 544.8 L790.4 544.0 L789.6 544.6 L788.8 546.3 L788.0 544.1 L787.2 544.9 L786.4 545.4 L785.6 545.0 L784.8 545.6 L784.0 545.6 L783.2 544.5 L782.4 544.8 L781.6 544.8 L780.8 544.8 L780.0 544.2 L779.2 545.0 L778.4 544.4 L777.6 544.7 L776.8 544.5 L776.0 545.4 L775.2 546.1 L774.4 545.3 L773.6 544.6 L772.8 545.4 L772.0 545.9 L771.2 544.7 L770.4 544.8 L769.6 545.0 L768.8 545.2 L768.0 544.8 L767.2 545.0 L766.4 544.9 L765.6 545.2 L764.8 545.4 L764.0 544.4 L763.2 544.5 L762.4 543.8 L761.6 544.0 L760.8 544.5 L760.0 544.9 L759.2 543.7 L758.4 545.1 L757.6 545.6 L756.8 544.4 L756.0 543.8 L755.2 544.2 L754.4 543.2 L753.6 543.4 L752.8 544.9 L752.0 543.0 L751.2 543.3 L750.4 543.4 L749.6 543.9 L748.8 543.0 L748.0 543.5 L747.2 544.7 L746.4 544.4 L745.6 544.8 L744.8 544.9 L744.0 545.4 L743.2 544.7 L742.4 545.1 L741.6 545.2 L740.8 545.8 L740.0 545.0 L739.2 545.7 L738.4 544.3 L737.6 545.5 L736.8 544.5 L736.0 544.7 L735.2 545.1 L734.4 544.9 L733.6 544.6 L732.8 544.4 L732.0 544.5 L731.2 544.4 L730.4 544.3 L729.6 545.0 L728.8 545.1 L728.0 545.9 L727.2 544.6 L726.4 544.9 L725.6 544.9 L724.8 544.7 L724.0 545.1 L723.2 544.7 L722.4 545.5 L721.6 546.3 L720.8 544.5 L720.0 545.1 L719.2 545.3 L718.4 545.8 L717.6 544.9 L716.8 544.6 L716.0 544.7 L715.2 544.0 L714.4 544.9 L713.6 546.4 L712.8 544.8 L712.0 545.5 L711.2 545.4 L710.4 544.5 L709.6 545.1 L708.8 545.0 L708.0 543.9 L707.2 545.5 L706.4 544.8 L705.6 545.8 L704.8 545.8 L704.0 544.9 L703.2 545.5 L702.4 544.7 L701.6 544.8 L700.8 545.0 L700.0 545.4 L699.2 545.2 L698.4 544.9 L697.6 545.7 L696.8 545.6 L696.0 544.8 L695.2 546.5 L694.4 544.4 L693.6 545.3 L692.8 544.2 L692.0 544.6 L691.2 545.0 L690.4 544.9 L689.6 544.6 L688.8 544.2 L688.0 544.2 L687.2 545.3 L686.4 544.5 L685.6 544.7 L684.8 545.0 L684.0 544.1 L683.2 544.8 L682.4 544.4 L681.6 544.3 L680.8 546.0 L680.0 544.2 L679.2 544.6 L678.4 544.2 L677.6 544.0 L676.8 544.3 L676.0 544.2 L675.2 544.1 L674.4 543.2 L673.6 543.7 L672.8 542.1 L672.0 541.8 L671.2 544.0 L670.4 545.6 L669.6 544.3 L668.8 544.7 L668.0 545.1 L667.2 546.0 L666.4 544.3 L665.6 544.3 L664.8 544.4 L664.0 544.9 L663.2 545.3 L662.4 544.9 L661.6 544.3 L660.8 545.0 L660.0 544.7 L659.2 544.1 L658.4 544.0 L657.6 545.0 L656.8 545.3 L656.0 544.5 L655.2 544.0 L654.4 544.2 L653.6 543.6 L652.8 543.4 L652.0 543.7 L651.2 542.3 L650.4 542.6 L649.6 541.4 L648.8 543.9 L648.0 545.1 L647.2 545.4 L646.4 545.5 L645.6 544.6 L644.8 545.4 L644.0 544.5 L643.2 544.7 L642.4 544.6 L641.6 544.4 L640.8 545.2 L640.0 545.1 L639.2 544.7 L638.4 544.8 L637.6 545.1 L636.8 545.1 L636.0 544.3 L635.2 545.2 L634.4 545.0 L633.6 544.7 L632.8 545.0 L632.0 544.4 L631.2 544.7 L630.4 544.1 L629.6 545.9 L628.8 544.8 L628.0 544.7 L627.2 545.0 L626.4 545.4 L625.6 545.8 L624.8 544.2 L624.0 544.8 L623.2 544.5 L622.4 545.8 L621.6 545.0 L620.8 545.2 L620.0 545.0 L619.2 545.3 L618.4 546.2 L617.6 544.7 L616.8 544.7 L616.0 544.0 L615.2 545.3 L614.4 543.7 L613.6 544.9 L612.8 544.7 L612.0 544.8 L611.2 544.2 L610.4 544.3 L609.6 544.1 L608.8 546.3 L608.0 544.6 L607.2 544.7 L606.4 544.8 L605.6 545.5 L604.8 544.7 L604.0 543.9 L603.2 544.3 L602.4 545.9 L601.6 543.9 L600.8 544.3 L600.0 544.6 L599.2 544.9 L598.4 545.9 L597.6 544.9 L596.8 544.3 L596.0 545.3 L595.2 545.1 L594.4 546.6 L593.6 544.7 L592.8 544.5 L592.0 545.1 L591.2 545.0 L590.4 545.0 L589.6 545.3 L588.8 543.9 L588.0 543.9 L587.2 544.8 L586.4 544.0 L585.6 544.1 L584.8 543.6 L584.0 544.0 L583.2 543.8 L582.4 546.0 L581.6 545.1 L580.8 544.2 L580.0 544.4 L579.2 544.3 L578.4 544.0 L577.6 544.2 L576.8 544.1 L576.0 544.6 L575.2 544.4 L574.4 544.5 L573.6 544.5 L572.8 545.1 L572.0 545.2 L571.2 545.6 L570.4 544.6 L569.6 544.2 L568.8 543.9 L568.0 544.1 L567.2 545.4 L566.4 544.6 L565.6 544.2 L564.8 544.5 L564.0 543.6 L563.2 543.7 L562.4 543.8 L561.6 545.4 L560.8 543.3 L560.0 543.7 L559.2 543.6 L558.4 543.2 L557.6 542.7 L556.8 540.8 L556.0 540.6 L555.2 537.8 L554.4 537.1 L553.6 542.4 L552.8 544.4 L552.0 544.3 L551.2 545.1 L550.4 545.1 L549.6 544.7 L548.8 544.8 L548.0 545.1 L547.2 545.2 L546.4 544.6 L545.6 545.4 L544.8 544.7 L544.0 545.1 L543.2 545.2 L542.4 544.7 L541.6 545.6 L540.8 545.3 L540.0 545.5 L539.2 545.1 L538.4 544.9 L537.6 543.8 L536.8 544.0 L536.0 543.6 L535.2 544.2 L534.4 544.1 L533.6 544.2 L532.8 543.0 L532.0 544.2 L531.2 543.1 L530.4 543.3 L529.6 542.8 L528.8 542.6 L528.0 542.5 L527.2 541.5 L526.4 543.8 L525.6 545.4 L524.8 544.8 L524.0 546.1 L523.2 545.6 L522.4 544.3 L521.6 544.6 L520.8 545.4 L520.0 545.5 L519.2 545.6 L518.4 544.1 L517.6 544.7 L516.8 544.2 L516.0 544.2 L515.2 545.9 L514.4 544.7 L513.6 545.4 L512.8 544.6 L512.0 545.8 L511.2 545.8 L510.4 544.3 L509.6 544.4 L508.8 545.2 L508.0 543.9 L507.2 544.3 L506.4 544.4 L505.6 544.0 L504.8 544.2 L504.0 544.5 L503.2 544.1 L502.4 544.8 L501.6 544.4 L500.8 544.9 L500.0 544.3 L499.2 544.1 L498.4 544.0 L497.6 543.2 L496.8 543.0 L496.0 544.3 L495.2 542.3 L494.4 542.7 L493.6 543.4 L492.8 542.0 L492.0 542.2 L491.2 540.8 L490.4 543.4 L489.6 544.4 L488.8 544.5 L488.0 543.7 L487.2 544.2 L486.4 543.4 L485.6 543.7 L484.8 544.1 L484.0 544.0 L483.2 543.5 L482.4 543.7 L481.6 543.4 L480.8 543.7 L480.0 543.2 L479.2 543.7 L478.4 545.1 L477.6 546.0 L476.8 544.3 L476.0 545.9 L475.2 544.7 L474.4 544.6 L473.6 545.1 L472.8 544.0 L472.0 546.3 L471.2 545.1 L470.4 545.1 L469.6 545.2 L468.8 544.5 L468.0 544.7 L467.2 544.9 L466.4 544.4 L465.6 544.6 L464.8 544.2 L464.0 545.3 L463.2 544.3 L462.4 545.5 L461.6 545.5 L460.8 544.4 L460.0 545.4 L459.2 544.7 L458.4 545.4 L457.6 545.0 L456.8 544.9 L456.0 545.0 L455.2 544.3 L454.4 544.9 L453.6 544.6 L452.8 545.0 L452.0 545.4 L451.2 544.9 L450.4 545.7 L449.6 544.8 L448.8 545.3 L448.0 546.3 L447.2 544.8 L446.4 545.1 L445.6 545.3 L444.8 545.7 L444.0 545.5 L443.2 546.6 L442.4 545.8 L441.6 545.7 L440.8 545.7 L440.0 545.3 L439.2 546.0 L438.4 545.0 L437.6 545.7 L436.8 546.5 L436.0 545.5 L435.2 545.1 L434.4 546.5 L433.6 544.9 L432.8 545.1 L432.0 545.9 L431.2 546.3 L430.4 546.1 L429.6 545.8 L428.8 545.6 L428.0 545.5 L427.2 545.2 L426.4 547.6 L425.6 545.4 L424.8 545.6 L424.0 545.6 L423.2 545.2 L422.4 545.7 L421.6 545.6 L420.8 545.5 L420.0 544.7 L419.2 545.2 L418.4 546.2 L417.6 544.9 L416.8 545.2 L416.0 545.3 L415.2 546.1 L414.4 545.4 L413.6 545.0 L412.8 545.1 L412.0 545.4 L411.2 546.5 L410.4 546.3 L409.6 545.6 L408.8 546.3 L408.0 546.6 L407.2 545.5 L406.4 545.6 L405.6 544.7 L404.8 545.6 L404.0 545.1 L403.2 545.6 L402.4 546.1 L401.6 544.7 L400.8 544.6 L400.0 545.6 L399.2 546.4 L398.4 546.2 L397.6 545.0 L396.8 545.5 L396.0 545.8 L395.2 545.0 L394.4 546.0 L393.6 545.4 L392.8 545.6 L392.0 545.8 L391.2 545.2 L390.4 546.0 L389.6 544.9 L388.8 545.8 L388.0 545.2 L387.2 545.2 L386.4 544.9 L385.6 547.3 L384.8 544.8 L384.0 545.3 L383.2 547.1 L382.4 545.6 L381.6 545.6 L380.8 546.4 L380.0 544.9 L379.2 545.2 L378.4 546.2 L377.6 546.2 L376.8 545.9 L376.0 544.8 L375.2 544.7 L374.4 545.1 L373.6 545.9 L372.8 545.6 L372.0 546.7 L371.2 545.6 L370.4 545.1 L369.6 545.6 L368.8 546.5 L368.0 546.5 L367.2 545.1 L366.4 546.0 L365.6 545.0 L364.8 546.4 L364.0 546.1 L363.2 545.5 L362.4 545.5 L361.6 545.3 L360.8 545.1 L360.0 545.1 L359.2 546.2 L358.4 544.9 L357.6 545.8 L356.8 545.5 L356.0 546.3 L355.2 545.5 L354.4 546.0 L353.6 545.6 L352.8 546.6 L352.0 546.3 L351.2 546.9 L350.4 545.1 L349.6 545.8 L348.8 545.9 L348.0 545.0 L347.2 546.6 L346.4 545.7 L345.6 546.2 L344.8 545.8 L344.0 545.8 L343.2 545.1 L342.4 546.6 L341.6 544.7 L340.8 546.6 L340.0 546.4 L339.2 546.1 L338.4 545.8 L337.6 544.9 L336.8 546.8 L336.0 545.3 L335.2 544.9 L334.4 546.0 L333.6 545.3 L332.8 545.2 L332.0 546.5 L331.2 545.7 L330.4 546.0 L329.6 546.6 L328.8 544.9 L328.0 545.5 L327.2 545.9 L326.4 546.3 L325.6 545.1 L324.8 545.5 L324.0 546.3 L323.2 545.7 L322.4 545.4 L321.6 545.5 L320.8 545.3 L320.0 545.2 L319.2 546.3 L318.4 545.3 L317.6 547.0 L316.8 545.6 L316.0 545.2 L315.2 546.3 L314.4 545.1 L313.6 545.4 L312.8 544.7 L312.0 544.9 L311.2 545.6 L310.4 546.7 L309.6 546.3 L308.8 546.2 L308.0 546.0 L307.2 545.2 L306.4 545.6 L305.6 546.1 L304.8 546.0 L304.0 545.4 L303.2 545.6 L302.4 545.5 L301.6 545.3 L300.8 545.0 L300.0 546.6 L299.2 547.7 L298.4 546.6 L297.6 546.1 L296.8 546.2 L296.0 546.3 L295.2 545.8 L294.4 545.6 L293.6 546.8 L292.8 546.7 L292.0 545.6 L291.2 546.3 L290.4 546.7 L289.6 545.7 L288.8 546.5 L288.0 546.5 L287.2 545.9 L286.4 546.2 L285.6 546.3 L284.8 546.9 L284.0 546.2 L283.2 546.2 L282.4 546.6 L281.6 546.4 L280.8 545.9 L280.0 546.3 L279.2 545.6 L278.4 546.6 L277.6 546.2 L276.8 545.9 L276.0 546.6 L275.2 545.7 L274.4 546.5 L273.6 546.6 L272.8 546.4 L272.0 545.9 L271.2 546.6 L270.4 546.1 L269.6 545.2 L268.8 545.9 L268.0 546.5 L267.2 546.5 L266.4 547.2 L265.6 546.7 L264.8 545.8 L264.0 546.0 L263.2 545.4 L262.4 546.3 L261.6 545.9 L260.8 545.8 L260.0 546.6 L259.2 546.0 L258.4 545.4 L257.6 546.4 L256.8 546.0 L256.0 546.2 L255.2 547.4 L254.4 546.3 L253.6 546.8 L252.8 545.4 L252.0 546.1 L251.2 547.0 L250.4 545.8 L249.6 546.2 L248.8 546.9 L248.0 546.4 L247.2 547.3 L246.4 545.3 L245.6 546.4 L244.8 545.8 L244.0 546.7 L243.2 546.0 L242.4 546.0 L241.6 545.5 L240.8 546.2 L240.0 545.8 L239.2 546.7 L238.4 545.2 L237.6 546.1 L236.8 547.3 L236.0 546.4 L235.2 545.4 L234.4 546.3 L233.6 546.1 L232.8 546.6 L232.0 546.3 L231.2 545.4 L230.4 545.5 L229.6 546.5 L228.8 545.2 L228.0 547.5 L227.2 545.5 L226.4 546.2 L225.6 546.2 L224.8 547.0 L224.0 546.6 L223.2 546.0 L222.4 547.3 L221.6 546.1 L220.8 545.9 L220.0 546.3 L219.2 545.7 L218.4 547.2 L217.6 545.3 L216.8 547.5 L216.0 546.1 L215.2 545.4 L214.4 546.0 L213.6 545.5 L212.8 545.5 L212.0 546.6 L211.2 545.4 L210.4 546.0 L209.6 546.1 L208.8 545.9 L208.0 545.3 L207.2 546.3 L206.4 546.2 L205.6 546.1 L204.8 545.6 L204.0 546.0 L203.2 545.8 L202.4 547.1 L201.6 545.7 L200.8 546.0 L200.0 547.0 L199.2 545.6 L198.4 546.5 L197.6 546.4 L196.8 547.2 L196.0 546.3 L195.2 546.2 L194.4 545.9 L193.6 545.6 L192.8 545.9 L192.0 545.1 L191.2 546.1 L190.4 545.8 L189.6 545.5 L188.8 546.2 L188.0 545.3 L187.2 545.0 L186.4 545.8 L185.6 545.8 L184.8 546.3 L184.0 546.1 L183.2 545.1 L182.4 545.2 L181.6 545.8 L180.8 545.5 L180.0 544.8 L179.2 545.3 L178.4 544.6 L177.6 544.5 L176.8 543.7 L176.0 544.1 L175.2 543.1 L174.4 542.6 L173.6 543.1 L172.8 541.2 L172.0 543.7 L171.2 546.0 L170.4 547.0 L169.6 545.3 L168.8 545.8 L168.0 545.8 L167.2 546.2 L166.4 546.6 L165.6 545.3 L164.8 545.4 L164.0 546.0 L163.2 546.8 L162.4 548.1 L161.6 546.2 L160.8 547.2 L160.0 547.1 L159.2 545.4 L158.4 547.3 L157.6 545.3 L156.8 546.4 L156.0 545.8 L155.2 546.5 L154.4 545.1 L153.6 545.2 L152.8 545.6 L152.0 546.2 L151.2 545.0 L150.4 545.3 L149.6 545.5 L148.8 546.3 L148.0 545.0 L147.2 544.8 L146.4 544.2 L145.6 545.3 L144.8 545.8 L144.0 545.6 L143.2 545.3 L142.4 545.9 L141.6 545.0 L140.8 545.0 L140.0 545.4 L139.2 545.6 L138.4 544.8 L137.6 544.3 L136.8 544.8 L136.0 544.7 L135.2 545.3 L134.4 546.3 L133.6 545.3 L132.8 545.9 L132.0 545.3 L131.2 546.3 L130.4 546.6 L129.6 545.0 L128.8 545.8 L128.0 544.4 L127.2 544.5 L126.4 543.8 L125.6 542.5 L124.8 543.1 L124.0 543.2 L123.2 548.7 L122.4 548.6 L121.6 547.9 L120.8 549.5 L120.0 549.2 L119.2 547.7 L118.4 547.3 L117.6 548.1 L116.8 547.9 L116.0 547.7 L115.2 547.5 L114.4 547.8 L113.6 549.6 L112.8 547.5 L112.0 547.5 L111.2 548.8 L110.4 547.9 L109.6 548.6 L108.8 547.6 L108.0 548.6 L107.2 547.9 L106.4 549.0 L105.6 548.0 L104.8 547.7 L104.0 549.0 L103.2 548.2 L102.4 547.3 L101.6 547.4 L100.8 547.7 L100.0 548.1 L99.2 548.1 L98.4 548.7 L97.6 548.1 L96.8 548.5 L96.0 547.7 L95.2 547.6 L94.4 548.9 L93.6 548.6 L92.8 548.6 L92.0 548.0 L91.2 547.7 L90.4 547.0 L89.6 547.9 L88.8 547.5 L88.0 547.7 L87.2 548.1 L86.4 548.7 L85.6 548.6 L84.8 547.6 L84.0 549.2 L83.2 548.1 L82.4 547.5 L81.6 549.4 L80.8 548.7 L80.0 547.6 L79.2 547.7 L78.4 548.1 L77.6 548.4 L76.8 549.4 L76.0 548.2 L75.2 548.4 L74.4 547.8 L73.6 547.8 L72.8 548.8 L72.0 548.2 L71.2 548.3 L70.4 548.0 L69.6 548.2 L68.8 548.0 L68.0 548.5 L67.2 547.5 L66.4 547.2 L65.6 548.4 L64.8 548.6 L64.0 548.8 L63.2 548.3 L62.4 547.9 L61.6 548.1 L60.8 547.8 L60.0 548.9 L59.2 548.1 L58.4 548.3 L57.6 548.7 L56.8 548.7 L56.0 548.4 L55.2 548.6 L54.4 548.4 L53.6 547.4 L52.8 548.2 L52.0 547.8 L51.2 548.0 L50.4 548.9 L49.6 548.5 L48.8 549.0 L48.0 548.3 L47.2 548.0 L46.4 547.4 L45.6 547.7 L44.8 547.3 L44.0 548.3 L43.2 547.6 L42.4 548.3 L41.6 547.4 L40.8 547.3 L40.0 548.1 L39.2 548.6 L38.4 547.2 L37.6 548.5 L36.8 547.8 L36.0 548.0 L35.2 548.5 L34.4 548.9 L33.6 548.3 L32.8 548.3 L32.0 548.1 L31.2 548.3 L30.4 549.3 L29.6 547.9 L28.8 548.4 L28.0 548.1 L27.2 547.9 L26.4 548.2 L25.6 547.8 L24.8 548.9 L24.0 547.9 L23.2 548.4 L22.4 547.3 L21.6 548.3 L20.8 548.1 L20.0 547.3 L19.2 548.8 L18.4 547.9 L17.6 547.3 L16.8 547.7 L16.0 547.5Z" fill="#ff0000"/>
<polygon points="44.2,541.5 44.5,525.0 44.9,524.0 46.1,524.0 46.5,525.0 46.7,537.1 47.2,538.5 47.9,541.5" fill="#ff0000" fill-opacity="0.88"/>
<polygon points="414.1,541.5 414.4,531.7 414.8,530.7 415.8,530.7 416.2,531.7 416.4,538.8 416.8,538.5 417.4,541.5" fill="#ff0000" fill-opacity="0.88"/>
<polygon points="434.8,541.5 435.1,529.0 435.5,528.0 436.5,528.0 436.9,529.0 437.1,538.1 437.5,538.5 438.2,541.5" fill="#ff0000" fill-opacity="0.88"/>
<polygon points="552.7,541.5 553.0,507.0 553.4,506.0 554.6,506.0 555.0,507.0 555.2,532.6 556.0,538.5 556.9,541.5" fill="#ff0000" fill-opacity="0.88"/>
<polygon points="648.5,541.5 648.8,467.8 649.2,466.8 650.2,466.8 650.6,467.8 650.8,531.5 652.0,538.5 653.5,541.5" fill="#ff0000" fill-opacity="0.88"/>
<polygon points="670.8,541.5 671.1,440.5 671.5,439.5 672.5,439.5 672.9,440.5 673.1,531.5 674.7,538.5 676.4,541.5" fill="#ff0000" fill-opacity="0.88"/>
<polygon points="671.8,541.5 672.1,477.0 672.5,476.0 673.5,476.0 673.9,477.0 674.1,531.5 675.2,538.5 676.5,541.5" fill="#ff0000" fill-opacity="0.88"/>
<polygon points="681.2,541.5 681.5,530.0 681.9,529.0 682.9,529.0 683.3,530.0 683.5,538.4 684.0,538.5 684.6,541.5" fill="#ff0000" fill-opacity="0.88"/>
<polygon points="710.1,541.5 710.4,496.4 710.8,495.4 711.8,495.4 712.2,496.4 712.4,531.5 713.3,538.5 714.4,541.5" fill="#ff0000" fill-opacity="0.88"/>
<polygon points="747.0,541.5 747.3,495.0 747.7,494.0 748.7,494.0 749.1,495.0 749.3,531.5 750.2,538.5 751.3,541.5" fill="#ff0000" fill-opacity="0.88"/>
<polygon points="761.0,541.5 761.3,504.0 761.7,503.0 762.7,503.0 763.1,504.0 763.3,531.9 764.1,538.5 765.1,541.5" fill="#ff0000" fill-opacity="0.88"/>
<polygon points="760.1,541.5 760.4,513.0 760.8,512.0 761.8,512.0 762.2,513.0 762.4,534.1 763.1,538.5 763.9,541.5" fill="#ff0000" fill-opacity="0.88"/>
<polygon points="876.6,541.5 876.9,535.0 877.1,534.0 878.1,534.0 878.4,535.0 878.6,539.6 878.9,538.5 879.5,541.5" fill="#ff0000" fill-opacity="0.88"/>
<polygon points="906.1,541.5 906.4,301.8 906.8,300.8 907.8,300.8 908.2,301.8 908.4,531.5 910.2,538.5 912.2,541.5" fill="#ff0000" fill-opacity="0.88"/>
<polygon points="911.0,541.5 911.3,255.8 911.7,254.8 912.7,254.8 913.1,255.8 913.3,531.5 915.1,538.5 917.1,541.5" fill="#ff0000" fill-opacity="0.88"/>
<polygon points="911.7,541.5 912.0,506.8 912.4,505.8 913.4,505.8 913.8,506.8 914.0,532.6 914.7,538.5 915.7,541.5" fill="#ff0000" fill-opacity="0.88"/>
<polygon points="1022.4,541.5 1022.7,358.8 1023.1,357.8 1024.1,357.8 1024.5,358.8 1024.7,531.5 1026.5,538.5 1028.5,541.5" fill="#ff0000" fill-opacity="0.88"/>
<polygon points="1044.1,541.5 1044.4,4.2 1044.8,3.2 1045.8,3.2 1046.2,4.2 1046.4,531.5 1048.2,538.5 1050.2,541.5" fill="#ff0000" fill-opacity="0.88"/>
<polygon points="1113.2,541.5 1113.5,519.5 1113.9,518.5 1115.1,518.5 1115.5,519.5 1115.7,535.8 1116.3,538.5 1117.1,541.5" fill="#ff0000" fill-opacity="0.88"/>
<polygon points="1023.4,541.5 1023.7,521.0 1024.1,520.0 1025.1,520.0 1025.4,521.0 1025.6,536.1 1026.2,538.5 1027.0,541.5" fill="#ff0000" fill-opacity="0.88"/>
<polygon points="1044.9,541.5 1045.2,523.0 1045.5,522.0 1046.5,522.0 1046.8,523.0 1047.0,536.6 1047.6,538.5 1048.3,541.5" fill="#ff0000" fill-opacity="0.88"/>
<!-- Panel B: single spike -->
<path d="M120.6 1109.8 C122.9 1109.4 130.8 1106.9 134.3 1107.3 C137.8 1107.7 139.5 1110.8 141.8 1111.9 C144.1 1113.0 145.9 1114.1 147.9 1114.0 C149.9 1113.9 152.0 1112.3 154.0 1111.3 C156.0 1110.3 158.2 1107.9 160.0 1108.0 C161.8 1108.1 162.8 1110.1 164.6 1111.9 C166.4 1113.7 168.8 1117.0 170.7 1118.6 C172.6 1120.2 174.1 1121.4 176.1 1121.6 C178.1 1121.8 180.4 1120.6 182.8 1119.5 C185.2 1118.4 187.9 1117.1 190.4 1114.9 C192.9 1112.7 195.5 1108.7 198.0 1106.4 C200.5 1104.1 203.2 1101.8 205.5 1101.3 C207.8 1100.8 209.6 1102.7 211.6 1103.4 C213.6 1104.2 215.5 1105.3 217.7 1105.8 C219.9 1106.3 222.1 1105.8 224.6 1106.4 C227.1 1107.0 230.7 1109.6 232.8 1109.5 C234.9 1109.4 236.0 1108.2 237.4 1105.8 C238.8 1103.4 240.0 1099.2 241.0 1095.2 C242.0 1091.2 242.7 1087.8 243.5 1081.6 C244.3 1075.4 245.1 1068.1 246.1 1058.3 C247.1 1048.5 248.6 1034.5 249.7 1022.7 C250.8 1010.9 251.6 1001.0 252.5 987.2 C253.4 973.4 254.2 955.5 254.9 939.7 C255.6 923.9 256.2 908.0 256.8 892.2 C257.4 876.4 258.1 862.6 258.7 844.8 C259.3 827.0 259.6 805.2 260.3 785.4 C261.0 765.6 261.9 745.9 262.7 726.1 C263.5 706.3 264.3 684.6 265.1 666.8 C265.9 649.0 266.7 632.8 267.5 619.3 C268.3 605.8 269.2 593.2 269.8 586.1 C270.4 579.0 270.8 578.5 271.3 576.5 C271.8 574.5 272.2 573.8 272.7 573.8 C273.2 573.8 273.7 574.9 274.1 576.5 C274.5 578.1 274.8 579.7 275.3 583.7 C275.8 587.7 276.3 591.2 277.0 600.3 C277.7 609.4 278.4 624.0 279.3 638.3 C280.2 652.5 281.2 668.8 282.2 685.8 C283.2 702.8 284.2 721.8 285.3 740.4 C286.4 759.0 287.6 779.9 288.8 797.3 C290.0 814.7 291.1 829.0 292.4 844.8 C293.7 860.6 294.8 876.4 296.4 892.2 C298.0 908.0 300.0 925.1 301.9 939.7 C303.8 954.3 305.8 968.1 307.8 980.0 C309.8 991.9 311.7 1001.4 313.7 1010.9 C315.7 1020.4 317.9 1030.5 319.7 1037.0 C321.5 1043.5 322.8 1046.8 324.4 1050.0 C326.0 1053.2 327.4 1054.2 329.2 1056.0 C331.0 1057.8 333.2 1058.5 335.1 1060.5 C337.0 1062.5 338.9 1065.4 340.5 1067.9 C342.1 1070.4 343.5 1073.1 345.0 1075.5 C346.5 1077.9 348.3 1080.9 349.6 1082.2 C350.9 1083.5 351.3 1083.7 352.6 1083.1 C353.9 1082.5 355.7 1079.8 357.2 1078.5 C358.7 1077.2 360.3 1075.6 361.7 1075.5 C363.1 1075.4 363.9 1076.4 365.4 1077.9 C366.9 1079.4 369.1 1082.8 370.8 1084.6 C372.5 1086.4 373.6 1087.7 375.4 1088.5 C377.2 1089.3 379.4 1089.3 381.4 1089.7 C383.4 1090.1 385.5 1090.1 387.5 1090.7 C389.5 1091.3 391.6 1092.5 393.6 1093.1 C395.6 1093.6 397.6 1094.0 399.6 1094.0 C401.6 1094.0 403.7 1093.4 405.7 1093.1 C407.7 1092.8 410.0 1092.0 411.8 1092.2 C413.6 1092.5 414.8 1093.4 416.3 1094.6 C417.8 1095.8 419.5 1098.1 420.9 1099.1 C422.3 1100.1 423.2 1100.6 424.5 1100.4 C425.8 1100.2 427.1 1099.6 428.5 1098.2 C429.9 1096.8 431.5 1093.6 433.0 1092.2 C434.5 1090.8 436.1 1089.8 437.6 1089.7 C439.1 1089.6 440.6 1090.5 442.1 1091.6 C443.6 1092.7 445.2 1094.7 446.7 1096.1 C448.2 1097.5 449.8 1099.1 451.2 1099.8 C452.6 1100.5 453.6 1101.0 455.2 1100.5 C456.8 1100.0 458.9 1097.8 460.6 1097.0 C462.3 1096.2 463.7 1095.3 465.2 1095.5 C466.7 1095.7 467.9 1096.3 469.7 1097.9 C471.5 1099.5 473.8 1103.3 475.8 1104.9 C477.8 1106.5 479.5 1107.3 481.8 1107.6 C484.1 1107.8 486.9 1107.2 489.4 1106.4 C491.9 1105.6 494.5 1103.6 497.0 1102.5 C499.5 1101.4 502.1 1100.4 504.6 1100.0 C507.1 1099.6 509.7 1099.6 512.2 1100.3 C514.7 1101.0 517.3 1102.6 519.8 1104.0 C522.3 1105.4 525.2 1107.6 527.3 1108.5 C529.4 1109.4 530.7 1109.9 532.5 1109.4 C534.3 1108.9 536.3 1106.8 538.0 1105.5 C539.7 1104.2 541.1 1102.5 542.5 1101.6 C543.9 1100.7 545.1 1100.0 546.5 1100.3 C547.9 1100.6 549.1 1101.9 550.7 1103.4 C552.3 1104.9 554.5 1107.8 556.2 1109.1 C557.9 1110.4 559.3 1111.1 560.7 1111.0 C562.1 1110.9 563.2 1110.0 564.6 1108.5 C566.0 1107.0 567.5 1103.7 568.9 1101.9 C570.3 1100.1 571.6 1098.7 572.8 1097.9 C574.0 1097.1 574.7 1096.8 575.9 1097.3 C577.1 1097.8 578.3 1099.0 579.8 1100.9 C581.3 1102.8 583.1 1106.6 585.0 1108.5 C586.9 1110.4 589.0 1110.9 591.0 1112.2 C593.0 1113.5 595.1 1115.1 597.1 1116.1 C599.1 1117.1 601.2 1118.3 603.2 1118.2 C605.2 1118.1 606.9 1116.7 609.2 1115.2 C611.5 1113.7 614.3 1110.8 616.8 1109.1 C619.3 1107.4 621.9 1106.2 624.4 1104.9 C626.9 1103.6 629.5 1101.9 632.0 1101.2 C634.5 1100.5 637.3 1101.2 639.6 1100.9 C641.9 1100.7 643.8 1100.0 645.6 1099.7 C647.4 1099.4 648.7 1098.9 650.2 1099.1 C651.7 1099.3 653.2 1099.8 654.7 1100.9 C656.2 1102.0 657.5 1103.7 659.3 1105.5 C661.1 1107.3 663.3 1110.3 665.3 1111.6 C667.3 1112.9 669.1 1113.0 671.4 1113.1 C673.7 1113.2 676.7 1112.8 679.0 1112.2 C681.3 1111.6 683.1 1110.8 685.1 1109.4 C687.1 1108.0 689.3 1105.2 691.1 1104.0 C692.9 1102.8 694.3 1102.3 695.7 1102.5 C697.1 1102.7 697.9 1103.4 699.3 1104.9 C700.7 1106.4 702.5 1109.7 704.2 1111.6 C705.9 1113.5 707.7 1115.3 709.3 1116.1 C710.9 1116.8 712.4 1116.3 713.9 1116.1 C715.4 1115.8 716.9 1114.7 718.4 1114.6 C719.9 1114.5 721.5 1115.2 723.0 1115.5 C724.5 1115.8 726.0 1117.0 727.5 1116.7 C729.0 1116.5 730.6 1115.6 732.1 1114.0 C733.6 1112.4 735.1 1109.2 736.6 1107.0 C738.1 1104.8 739.7 1102.3 741.2 1100.9 C742.7 1099.5 744.2 1098.9 745.7 1098.8 C747.2 1098.7 748.8 1099.5 750.3 1100.3 C751.8 1101.1 753.3 1102.5 754.8 1103.4 C756.3 1104.3 757.9 1105.5 759.4 1105.5 C760.9 1105.5 762.1 1104.5 763.9 1103.4 C765.7 1102.3 768.0 1100.1 770.0 1098.8 C772.0 1097.5 774.3 1096.3 776.1 1095.8 C777.9 1095.3 779.1 1095.3 780.6 1095.8 C782.1 1096.3 783.4 1097.3 785.2 1098.8 C787.0 1100.3 789.4 1103.4 791.2 1104.9 C793.1 1106.4 794.4 1107.2 796.3 1107.6 C798.2 1108.0 800.5 1107.1 802.6 1107.3 C804.7 1107.5 806.8 1108.5 808.9 1108.9 C811.0 1109.3 813.1 1109.8 815.2 1109.5 C817.3 1109.2 819.4 1108.1 821.5 1107.3 C823.6 1106.5 825.8 1105.3 827.9 1104.8 C830.0 1104.3 832.1 1104.2 834.2 1104.2 C836.3 1104.2 838.4 1104.6 840.5 1105.1 C842.6 1105.6 844.7 1106.9 846.8 1107.3 C848.9 1107.7 851.0 1108.0 853.1 1107.6 C855.2 1107.2 857.5 1105.7 859.4 1104.8 C861.3 1103.9 863.2 1102.3 864.8 1102.3 C866.4 1102.3 867.4 1103.4 868.9 1104.8 C870.4 1106.2 872.0 1109.1 873.6 1110.5 C875.2 1111.9 876.7 1112.9 878.3 1113.0 C879.9 1113.1 881.4 1111.8 883.1 1111.1 C884.8 1110.4 886.8 1108.6 888.4 1108.6 C890.0 1108.6 891.0 1109.9 892.5 1111.1 C894.0 1112.3 896.0 1114.9 897.3 1115.8 C898.6 1116.7 899.1 1116.8 900.4 1116.2 C901.7 1115.6 903.5 1113.6 905.1 1112.1 C906.7 1110.6 908.6 1108.2 909.9 1107.3 C911.2 1106.4 911.7 1106.4 913.0 1106.7 C914.3 1107.0 916.2 1108.6 917.8 1109.2 C919.4 1109.8 920.9 1110.8 922.5 1110.5 C924.1 1110.2 925.6 1108.7 927.2 1107.3 C928.8 1105.9 930.4 1103.2 931.9 1102.0 C933.4 1100.8 934.5 1100.0 936.0 1100.1 C937.5 1100.2 939.1 1101.1 940.8 1102.6 C942.5 1104.1 944.2 1106.6 946.2 1108.9 C948.2 1111.2 950.4 1114.5 952.5 1116.2 C954.6 1117.9 957.0 1118.9 958.8 1119.0 C960.6 1119.1 961.9 1118.1 963.5 1116.8 C965.1 1115.5 966.6 1112.7 968.2 1111.1 C969.8 1109.5 971.7 1107.9 973.0 1107.3 C974.3 1106.7 974.8 1106.5 976.1 1107.3 C977.4 1108.1 979.3 1110.6 980.9 1112.1 C982.5 1113.6 984.2 1115.5 985.6 1116.2 C987.0 1116.9 987.8 1116.8 989.4 1116.2 C991.0 1115.6 993.3 1113.4 995.0 1112.4 C996.7 1111.5 997.7 1110.9 999.8 1110.5 C1001.9 1110.1 1005.1 1110.2 1007.7 1110.2 C1010.3 1110.2 1013.2 1110.6 1015.6 1110.5 C1018.0 1110.4 1020.1 1110.3 1021.9 1109.8 C1023.7 1109.3 1025.0 1108.5 1026.6 1107.3 C1028.2 1106.1 1029.7 1103.8 1031.3 1102.6 C1032.9 1101.4 1034.5 1100.4 1036.1 1100.4 C1037.7 1100.4 1039.2 1101.5 1040.8 1102.6 C1042.4 1103.6 1043.7 1105.5 1045.5 1106.7 C1047.3 1107.9 1049.4 1108.8 1051.8 1109.5 C1054.2 1110.2 1057.6 1111.2 1059.7 1111.1 C1061.8 1111.0 1062.8 1109.8 1064.4 1108.9 C1066.0 1108.0 1067.6 1106.2 1069.2 1105.7 C1070.8 1105.2 1072.3 1105.3 1073.9 1105.7 C1075.5 1106.1 1077.0 1107.6 1078.6 1107.9 C1080.2 1108.2 1081.8 1107.8 1083.4 1107.3 C1085.0 1106.8 1086.6 1105.1 1088.1 1104.8 C1089.6 1104.5 1090.9 1104.8 1092.2 1105.7 C1093.5 1106.7 1094.6 1108.8 1096.0 1110.5 C1097.4 1112.2 1099.1 1114.6 1100.7 1115.8 C1102.3 1117.0 1103.9 1117.5 1105.5 1117.4 C1107.1 1117.3 1108.4 1116.2 1110.2 1115.2 C1112.0 1114.2 1114.1 1112.4 1116.5 1111.4 C1118.9 1110.5 1122.0 1110.3 1124.4 1109.5 C1126.8 1108.7 1128.9 1107.7 1130.7 1106.7 C1132.5 1105.7 1133.9 1104.3 1135.4 1103.5 C1136.9 1102.7 1138.8 1102.2 1139.5 1102.0" fill="none" stroke="#ff1414" stroke-width="2.3" stroke-linejoin="round" stroke-linecap="round"/>
<!-- scale bars -->
<rect x="349.3" y="151.2" width="148.3" height="9.8" fill="#000"/>
<rect x="346.9" y="156.8" width="9.8" height="127.8" fill="#000"/>
<rect x="741.7" y="706" width="156.5" height="13.1" fill="#000"/>
<rect x="735.5" y="711.7" width="13.6" height="269.5" fill="#000"/>
<!-- Panel C: histogram -->
<g stroke="#000" stroke-width="3.5" fill="none">
<line x1="211.5" y1="1213" x2="211.5" y2="1979"/>
<line x1="197.5" y1="1963.8" x2="1119" y2="1961.5" stroke-width="3.6"/>
<line x1="197.5" y1="1869.9" x2="211.5" y2="1869.9"/>
<line x1="197.5" y1="1776.5" x2="211.5" y2="1776.5"/>
<line x1="197.5" y1="1683.0" x2="211.5" y2="1683.0"/>
<line x1="197.5" y1="1589.6" x2="211.5" y2="1589.6"/>
<line x1="197.5" y1="1496.1" x2="211.5" y2="1496.1"/>
<line x1="197.5" y1="1402.6" x2="211.5" y2="1402.6"/>
<line x1="197.5" y1="1309.2" x2="211.5" y2="1309.2"/>
<line x1="197.5" y1="1215.7" x2="211.5" y2="1215.7"/>
<line x1="502.1" y1="1966.6" x2="502.1" y2="1981.5"/>
<line x1="792.7" y1="1966.6" x2="792.7" y2="1981.5"/>
<line x1="1083.3" y1="1966.6" x2="1083.3" y2="1981.5"/>
</g>
<g fill="#ffc4c4" stroke="#ff2020" stroke-width="2.25">
<rect x="340.65" y="1923.2" width="11.65" height="41.2"/>
<rect x="352.30" y="1825.1" width="11.65" height="139.3"/>
<rect x="363.94" y="1783.0" width="11.65" height="181.4"/>
<rect x="375.59" y="1740.0" width="11.65" height="224.4"/>
<rect x="387.24" y="1484.9" width="11.65" height="479.5"/>
<rect x="398.89" y="1725.1" width="11.65" height="239.3"/>
<rect x="410.54" y="1612.9" width="11.65" height="351.5"/>
<rect x="422.18" y="1442.8" width="11.65" height="521.6"/>
<rect x="433.83" y="1655.0" width="11.65" height="309.4"/>
<rect x="445.48" y="1584.0" width="11.65" height="380.4"/>
<rect x="457.13" y="1244.7" width="11.65" height="719.7"/>
<rect x="468.78" y="1372.7" width="11.65" height="591.7"/>
<rect x="480.42" y="1470.9" width="11.65" height="493.5"/>
<rect x="492.07" y="1414.8" width="11.65" height="549.6"/>
<rect x="503.72" y="1589.6" width="11.65" height="374.8"/>
<rect x="515.37" y="1442.8" width="11.65" height="521.6"/>
</g>
<line x1="339.5" y1="1965.1" x2="887.0" y2="1965.1" stroke="#ff2020" stroke-opacity="0.7" stroke-width="1"/>
<g fill="#c0e0f3" stroke="#1f8fd0" stroke-width="2.2">
<rect x="339.55" y="1945.6" width="11.65" height="17.8"/>
<rect x="351.20" y="1933.5" width="11.65" height="29.9"/>
<rect x="362.84" y="1927.4" width="11.65" height="36.0"/>
<rect x="374.49" y="1939.1" width="11.65" height="24.3"/>
<rect x="386.14" y="1903.6" width="11.65" height="59.8"/>
<rect x="397.79" y="1903.6" width="11.65" height="59.8"/>
<rect x="409.44" y="1830.7" width="11.65" height="132.7"/>
<rect x="421.08" y="1721.3" width="11.65" height="242.1"/>
<rect x="432.73" y="1812.9" width="11.65" height="150.5"/>
<rect x="444.38" y="1806.4" width="11.65" height="157.0"/>
<rect x="456.03" y="1690.5" width="11.65" height="272.9"/>
<rect x="467.68" y="1697.0" width="11.65" height="266.4"/>
<rect x="479.32" y="1690.5" width="11.65" height="272.9"/>
<rect x="490.97" y="1587.7" width="11.65" height="375.7"/>
<rect x="502.62" y="1550.3" width="11.65" height="413.1"/>
<rect x="514.27" y="1672.7" width="11.65" height="290.7"/>
<rect x="525.92" y="1399.8" width="11.65" height="563.6"/>
<rect x="537.56" y="1539.1" width="11.65" height="424.3"/>
<rect x="549.21" y="1556.8" width="11.65" height="406.6"/>
<rect x="560.86" y="1466.2" width="11.65" height="497.2"/>
<rect x="572.51" y="1472.7" width="11.65" height="490.7"/>
<rect x="584.16" y="1496.1" width="11.65" height="467.3"/>
<rect x="595.80" y="1526.9" width="11.65" height="436.5"/>
<rect x="607.45" y="1629.7" width="11.65" height="333.7"/>
<rect x="619.10" y="1599.8" width="11.65" height="363.6"/>
<rect x="630.75" y="1551.2" width="11.65" height="412.2"/>
<rect x="642.40" y="1721.3" width="11.65" height="242.1"/>
<rect x="654.04" y="1672.7" width="11.65" height="290.7"/>
<rect x="665.69" y="1752.2" width="11.65" height="211.2"/>
<rect x="677.34" y="1769.9" width="11.65" height="193.5"/>
<rect x="688.99" y="1830.7" width="11.65" height="132.7"/>
<rect x="700.64" y="1818.5" width="11.65" height="144.9"/>
<rect x="712.28" y="1825.1" width="11.65" height="138.3"/>
<rect x="723.93" y="1849.4" width="11.65" height="114.0"/>
<rect x="735.58" y="1812.9" width="11.65" height="150.5"/>
<rect x="747.23" y="1898.0" width="11.65" height="65.4"/>
<rect x="758.88" y="1849.4" width="11.65" height="114.0"/>
<rect x="770.52" y="1916.7" width="11.65" height="46.7"/>
<rect x="782.17" y="1891.4" width="11.65" height="72.0"/>
<rect x="793.82" y="1947.5" width="11.65" height="15.9"/>
<rect x="805.47" y="1910.1" width="11.65" height="53.3"/>
<rect x="817.12" y="1915.7" width="11.65" height="47.7"/>
<rect x="828.76" y="1934.4" width="11.65" height="29.0"/>
<rect x="840.41" y="1934.4" width="11.65" height="29.0"/>
<rect x="852.06" y="1951.4" width="11.65" height="12.0"/>
<rect x="863.71" y="1934.4" width="11.65" height="29.0"/>
<rect x="875.36" y="1945.6" width="11.65" height="17.8"/>
<rect x="910.30" y="1945.6" width="11.65" height="17.8"/>
<rect x="945.24" y="1957.4" width="11.65" height="6.0"/>
<rect x="956.89" y="1951.4" width="11.65" height="12.0"/>
<rect x="980.19" y="1957.4" width="11.65" height="6.0"/>
<rect x="1003.48" y="1957.4" width="11.65" height="6.0"/>
<rect x="1038.43" y="1951.4" width="11.65" height="12.0"/>
<rect x="1096.67" y="1957.4" width="11.65" height="6.0"/>
</g>
<path d="M211.5 1956.5 L217.0 1956.4 L222.6 1956.2 L228.1 1956.1 L233.6 1955.9 L239.1 1955.7 L244.7 1955.4 L250.2 1955.1 L255.7 1954.8 L261.3 1954.3 L266.8 1953.8 L272.3 1953.1 L277.8 1952.4 L283.4 1951.5 L288.9 1950.5 L294.4 1949.3 L300.0 1947.9 L305.5 1946.3 L311.0 1944.4 L316.5 1942.3 L322.1 1939.9 L327.6 1937.1 L333.1 1933.9 L338.7 1930.4 L344.2 1926.4 L349.7 1921.9 L355.2 1917.0 L360.8 1911.4 L366.3 1905.3 L371.8 1898.6 L377.4 1891.2 L382.9 1883.2 L388.4 1874.4 L393.9 1865.0 L399.5 1854.8 L405.0 1844.0 L410.5 1832.4 L416.1 1820.1 L421.6 1807.1 L427.1 1793.5 L432.6 1779.2 L438.2 1764.4 L443.7 1749.2 L449.2 1733.5 L454.8 1717.4 L460.3 1701.2 L465.8 1684.8 L471.3 1668.3 L476.9 1652.0 L482.4 1635.9 L487.9 1620.1 L493.5 1604.9 L499.0 1590.2 L504.5 1576.3 L510.0 1563.2 L515.6 1551.2 L521.1 1540.3 L526.6 1530.6 L532.2 1522.2 L537.7 1515.2 L543.2 1509.7 L548.7 1505.8 L554.3 1503.4 L559.8 1502.6 L565.3 1503.5 L570.9 1506.0 L576.4 1510.0 L581.9 1515.6 L587.4 1522.6 L593.0 1531.1 L598.5 1540.9 L604.0 1551.9 L609.6 1564.0 L615.1 1577.1 L620.6 1591.1 L626.1 1605.8 L631.7 1621.1 L637.2 1636.9 L642.7 1653.0 L648.3 1669.3 L653.8 1685.8 L659.3 1702.2 L664.9 1718.4 L670.4 1734.4 L675.9 1750.1 L681.4 1765.3 L687.0 1780.1 L692.5 1794.3 L698.0 1807.9 L703.6 1820.8 L709.1 1833.1 L714.6 1844.6 L720.1 1855.5 L725.7 1865.6 L731.2 1875.0 L736.7 1883.7 L742.3 1891.7 L747.8 1899.0 L753.3 1905.7 L758.8 1911.8 L764.4 1917.3 L769.9 1922.2 L775.4 1926.7 L781.0 1930.6 L786.5 1934.1 L792.0 1937.3 L797.5 1940.0 L803.1 1942.4 L808.6 1944.5 L814.1 1946.4 L819.7 1948.0 L825.2 1949.4 L830.7 1950.6 L836.2 1951.6 L841.8 1952.4 L847.3 1953.2 L852.8 1953.8 L858.4 1954.3 L863.9 1954.8 L869.4 1955.2 L874.9 1955.5 L880.5 1955.7 L886.0 1955.9 L891.5 1956.1 L897.1 1956.3 L902.6 1956.4 L908.1 1956.5 L913.6 1956.5 L919.2 1956.6 L924.7 1956.7 L930.2 1956.7 L935.8 1956.7 L941.3 1956.8 L946.8 1956.8 L952.3 1956.8 L957.9 1956.8 L963.4 1956.8 L968.9 1956.8 L974.5 1956.8 L980.0 1956.8 L985.5 1956.8 L991.0 1956.8 L996.6 1956.9 L1002.1 1956.9 L1007.6 1956.9 L1013.2 1956.9 L1018.7 1956.9 L1024.2 1956.9 L1029.7 1956.9 L1035.3 1956.9 L1040.8 1956.9 L1046.3 1956.9 L1051.9 1956.9 L1057.4 1956.9 L1062.9 1956.9 L1068.4 1956.9 L1074.0 1956.9 L1079.5 1956.9 L1085.0 1956.9 L1090.6 1956.9 L1096.1 1956.9" fill="none" stroke="#04669c" stroke-width="5.7"/>
<path d="M211.5 1953.9 L215.6 1953.6 L219.8 1953.3 L223.9 1952.8 L228.1 1952.4 L232.2 1951.8 L236.3 1951.1 L240.5 1950.4 L244.6 1949.5 L248.8 1948.5 L252.9 1947.3 L257.1 1946.0 L261.2 1944.5 L265.3 1942.8 L269.5 1940.9 L273.6 1938.7 L277.8 1936.2 L281.9 1933.5 L286.0 1930.4 L290.2 1926.9 L294.3 1923.1 L298.5 1918.9 L302.6 1914.2 L306.7 1909.0 L310.9 1903.4 L315.0 1897.2 L319.2 1890.5 L323.3 1883.2 L327.4 1875.4 L331.6 1866.9 L335.7 1857.8 L339.9 1848.0 L344.0 1837.6 L348.2 1826.5 L352.3 1814.9 L356.4 1802.5 L360.6 1789.6 L364.7 1776.0 L368.9 1761.9 L373.0 1747.3 L377.1 1732.2 L381.3 1716.6 L385.4 1700.7 L389.6 1684.4 L393.7 1667.9 L397.8 1651.3 L402.0 1634.6 L406.1 1618.0 L410.3 1601.4 L414.4 1585.1 L418.6 1569.1 L422.7 1553.5 L426.8 1538.4 L431.0 1524.0 L435.1 1510.4 L439.3 1497.6 L443.4 1485.7 L447.5 1474.8 L451.7 1465.1 L455.8 1456.6 L460.0 1449.3 L464.1 1443.3 L468.2 1438.8 L472.4 1435.6 L476.5 1433.8 L480.7 1433.5 L484.8 1434.7 L489.0 1437.3 L493.1 1441.3 L497.2 1446.7 L501.4 1453.5 L505.5 1461.5 L509.7 1470.8 L513.8 1481.2 L517.9 1492.7 L522.1 1505.1 L526.2 1518.4 L530.4 1532.6 L534.5 1547.3 L538.6 1562.7 L542.8 1578.6 L546.9 1594.8 L551.1 1611.3 L555.2 1627.9 L559.3 1644.6 L563.5 1661.3 L567.6 1677.8 L571.8 1694.1 L575.9 1710.2 L580.1 1725.9 L584.2 1741.2 L588.3 1756.1 L592.5 1770.4 L596.6 1784.2 L600.8 1797.4 L604.9 1810.0 L609.0 1821.9 L613.2 1833.2 L617.3 1843.9 L621.5 1853.9 L625.6 1863.3 L629.7 1872.0 L633.9 1880.1 L638.0 1887.7 L642.2 1894.6 L646.3 1901.0 L650.5 1906.8 L654.6 1912.2 L658.7 1917.0 L662.9 1921.4 L667.0 1925.4 L671.2 1929.0 L675.3 1932.2 L679.4 1935.1 L683.6 1937.7 L687.7 1940.0 L691.9 1942.0 L696.0 1943.8 L700.1 1945.4 L704.3 1946.8 L708.4 1948.0 L712.6 1949.1 L716.7 1950.0 L720.8 1950.8 L725.0 1951.5 L729.1 1952.1 L733.3 1952.7 L737.4 1953.1 L741.6 1953.5 L745.7 1953.8 L749.8 1954.1 L754.0 1954.3 L758.1 1954.5 L762.3 1954.7 L766.4 1954.8 L770.5 1954.9 L774.7 1955.0 L778.8 1955.1 L783.0 1955.2 L787.1 1955.2 L791.2 1955.3 L795.4 1955.3 L799.5 1955.3 L803.7 1955.4 L807.8 1955.4 L812.0 1955.4 L816.1 1955.4 L820.2 1955.4 L824.4 1955.4 L828.5 1955.4 L832.7 1955.4 L836.8 1955.4 L840.9 1955.4 L845.1 1955.4 L849.2 1955.4 L853.4 1955.4 L857.5 1955.5 L861.6 1955.5 L865.8 1955.5 L869.9 1955.5 L874.1 1955.5" fill="none" stroke="#ff0000" stroke-width="5.9"/>
<!-- labels -->
<g font-family='"Liberation Serif", "DejaVu Serif", serif' fill="#000" stroke="#000" stroke-width="0.5">
<text x="17" y="120.3" font-size="152.3">A</text>
<text x="15.6" y="698" font-size="152">B</text>
<text x="16.2" y="1265.8" font-size="155">C</text>
<text x="366.3" y="136.6" font-size="74.5">20 s</text>
<text transform="translate(320.6 316.2) rotate(-90)" font-size="74">20 pA</text>
<text x="714.3" y="686.2" font-size="73.5" letter-spacing="-1.6">100 ms</text>
<text transform="translate(706.8 922) rotate(-90)" font-size="73">5 pA</text>
<text transform="translate(137.6 1856) rotate(-90)" font-size="74">Number of events</text>
<text transform="translate(184 1979.0) scale(1 1.09)" font-size="45.5" text-anchor="end">0</text>
<text transform="translate(184 1792.1) scale(1 1.09)" font-size="45.5" text-anchor="end">2</text>
<text transform="translate(184 1605.2) scale(1 1.09)" font-size="45.5" text-anchor="end">4</text>
<text transform="translate(184 1418.2) scale(1 1.09)" font-size="45.5" text-anchor="end">6</text>
<text transform="translate(184 1231.3) scale(1 1.09)" font-size="45.5" text-anchor="end">8</text>
<text transform="translate(500.8 2018.9) scale(1 1.05)" font-size="39.6" text-anchor="middle">0.5</text>
<text transform="translate(793.2 2018.9) scale(1 1.05)" font-size="39.6" text-anchor="middle">1</text>
<text transform="translate(1080.5 2018.9) scale(1 1.05)" font-size="39.6" text-anchor="middle">1.5</text>
<text x="592" y="2078.3" font-size="65.3">pC<tspan font-size="40" dy="-28.6" dx="-2" letter-spacing="-1.6">1/3</tspan></text>
<text x="712.3" y="1348.8" font-size="39.55" fill="#ff0000" stroke="#ff0000" stroke-width="0.35">Basal content; n= 671</text>
<text x="712.3" y="1394.5" font-size="39.7" fill="#0000ff" stroke="#0000ff" stroke-width="0.35" xml:space="preserve">5-HT loaded;  n= 1557</text>
</g>
</svg>
</body></html>
